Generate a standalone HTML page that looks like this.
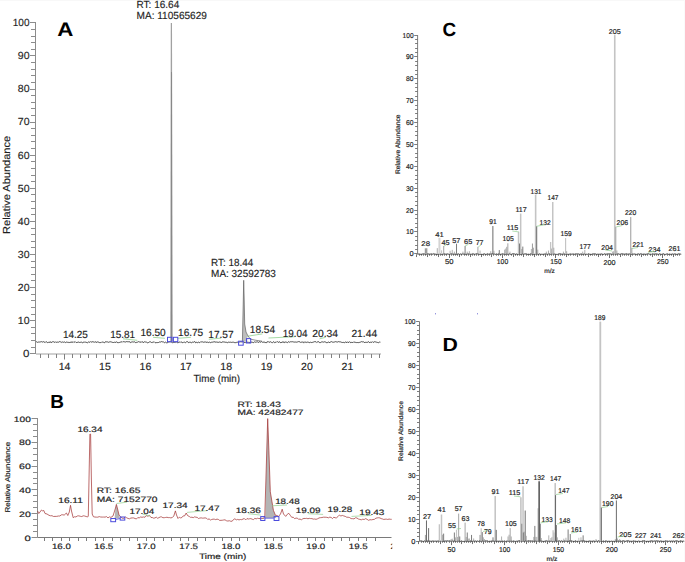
<!DOCTYPE html>
<html><head><meta charset="utf-8"><style>
html,body{margin:0;padding:0;background:#fff;width:685px;height:562px;overflow:hidden}
svg{display:block}
text{font-family:"Liberation Sans", sans-serif;text-rendering:geometricPrecision}
.sm{stroke:#1e1e1e;stroke-width:0.18px}
.md{stroke:#1e1e1e;stroke-width:0.15px}
</style></head><body>
<svg width="685" height="562" viewBox="0 0 685 562">
<rect width="685" height="562" fill="#fff"/>
<rect x="0" y="0" width="685" height="1" fill="#f8f8f8"/><rect x="684" y="0" width="1" height="562" fill="#fafafa"/>
<line x1="35.50" y1="22.00" x2="35.50" y2="354.00" stroke="#8c8c8c" stroke-width="1"/>
<line x1="36.00" y1="354.00" x2="381.00" y2="354.00" stroke="#d0d0d0" stroke-width="2.0"/>
<line x1="30.00" y1="353.50" x2="35.50" y2="353.50" stroke="#8c8c8c" stroke-width="1"/>
<line x1="31.00" y1="347.50" x2="35.50" y2="347.50" stroke="#8c8c8c" stroke-width="1"/>
<line x1="31.00" y1="340.50" x2="35.50" y2="340.50" stroke="#8c8c8c" stroke-width="1"/>
<line x1="31.00" y1="333.50" x2="35.50" y2="333.50" stroke="#8c8c8c" stroke-width="1"/>
<line x1="31.00" y1="327.50" x2="35.50" y2="327.50" stroke="#8c8c8c" stroke-width="1"/>
<line x1="30.00" y1="320.50" x2="35.50" y2="320.50" stroke="#8c8c8c" stroke-width="1"/>
<line x1="31.00" y1="314.50" x2="35.50" y2="314.50" stroke="#8c8c8c" stroke-width="1"/>
<line x1="31.00" y1="307.50" x2="35.50" y2="307.50" stroke="#8c8c8c" stroke-width="1"/>
<line x1="31.00" y1="300.50" x2="35.50" y2="300.50" stroke="#8c8c8c" stroke-width="1"/>
<line x1="31.00" y1="294.50" x2="35.50" y2="294.50" stroke="#8c8c8c" stroke-width="1"/>
<line x1="30.00" y1="287.50" x2="35.50" y2="287.50" stroke="#8c8c8c" stroke-width="1"/>
<line x1="31.00" y1="280.50" x2="35.50" y2="280.50" stroke="#8c8c8c" stroke-width="1"/>
<line x1="31.00" y1="274.50" x2="35.50" y2="274.50" stroke="#8c8c8c" stroke-width="1"/>
<line x1="31.00" y1="267.50" x2="35.50" y2="267.50" stroke="#8c8c8c" stroke-width="1"/>
<line x1="31.00" y1="261.50" x2="35.50" y2="261.50" stroke="#8c8c8c" stroke-width="1"/>
<line x1="30.00" y1="254.50" x2="35.50" y2="254.50" stroke="#8c8c8c" stroke-width="1"/>
<line x1="31.00" y1="247.50" x2="35.50" y2="247.50" stroke="#8c8c8c" stroke-width="1"/>
<line x1="31.00" y1="241.50" x2="35.50" y2="241.50" stroke="#8c8c8c" stroke-width="1"/>
<line x1="31.00" y1="234.50" x2="35.50" y2="234.50" stroke="#8c8c8c" stroke-width="1"/>
<line x1="31.00" y1="228.50" x2="35.50" y2="228.50" stroke="#8c8c8c" stroke-width="1"/>
<line x1="30.00" y1="221.50" x2="35.50" y2="221.50" stroke="#8c8c8c" stroke-width="1"/>
<line x1="31.00" y1="214.50" x2="35.50" y2="214.50" stroke="#8c8c8c" stroke-width="1"/>
<line x1="31.00" y1="208.50" x2="35.50" y2="208.50" stroke="#8c8c8c" stroke-width="1"/>
<line x1="31.00" y1="201.50" x2="35.50" y2="201.50" stroke="#8c8c8c" stroke-width="1"/>
<line x1="31.00" y1="194.50" x2="35.50" y2="194.50" stroke="#8c8c8c" stroke-width="1"/>
<line x1="30.00" y1="188.50" x2="35.50" y2="188.50" stroke="#8c8c8c" stroke-width="1"/>
<line x1="31.00" y1="181.50" x2="35.50" y2="181.50" stroke="#8c8c8c" stroke-width="1"/>
<line x1="31.00" y1="175.50" x2="35.50" y2="175.50" stroke="#8c8c8c" stroke-width="1"/>
<line x1="31.00" y1="168.50" x2="35.50" y2="168.50" stroke="#8c8c8c" stroke-width="1"/>
<line x1="31.00" y1="161.50" x2="35.50" y2="161.50" stroke="#8c8c8c" stroke-width="1"/>
<line x1="30.00" y1="155.50" x2="35.50" y2="155.50" stroke="#8c8c8c" stroke-width="1"/>
<line x1="31.00" y1="148.50" x2="35.50" y2="148.50" stroke="#8c8c8c" stroke-width="1"/>
<line x1="31.00" y1="141.50" x2="35.50" y2="141.50" stroke="#8c8c8c" stroke-width="1"/>
<line x1="31.00" y1="135.50" x2="35.50" y2="135.50" stroke="#8c8c8c" stroke-width="1"/>
<line x1="31.00" y1="128.50" x2="35.50" y2="128.50" stroke="#8c8c8c" stroke-width="1"/>
<line x1="30.00" y1="122.50" x2="35.50" y2="122.50" stroke="#8c8c8c" stroke-width="1"/>
<line x1="31.00" y1="115.50" x2="35.50" y2="115.50" stroke="#8c8c8c" stroke-width="1"/>
<line x1="31.00" y1="108.50" x2="35.50" y2="108.50" stroke="#8c8c8c" stroke-width="1"/>
<line x1="31.00" y1="102.50" x2="35.50" y2="102.50" stroke="#8c8c8c" stroke-width="1"/>
<line x1="31.00" y1="95.50" x2="35.50" y2="95.50" stroke="#8c8c8c" stroke-width="1"/>
<line x1="30.00" y1="89.50" x2="35.50" y2="89.50" stroke="#8c8c8c" stroke-width="1"/>
<line x1="31.00" y1="82.50" x2="35.50" y2="82.50" stroke="#8c8c8c" stroke-width="1"/>
<line x1="31.00" y1="75.50" x2="35.50" y2="75.50" stroke="#8c8c8c" stroke-width="1"/>
<line x1="31.00" y1="69.50" x2="35.50" y2="69.50" stroke="#8c8c8c" stroke-width="1"/>
<line x1="31.00" y1="62.50" x2="35.50" y2="62.50" stroke="#8c8c8c" stroke-width="1"/>
<line x1="30.00" y1="55.50" x2="35.50" y2="55.50" stroke="#8c8c8c" stroke-width="1"/>
<line x1="31.00" y1="49.50" x2="35.50" y2="49.50" stroke="#8c8c8c" stroke-width="1"/>
<line x1="31.00" y1="42.50" x2="35.50" y2="42.50" stroke="#8c8c8c" stroke-width="1"/>
<line x1="31.00" y1="36.50" x2="35.50" y2="36.50" stroke="#8c8c8c" stroke-width="1"/>
<line x1="31.00" y1="29.50" x2="35.50" y2="29.50" stroke="#8c8c8c" stroke-width="1"/>
<line x1="30.00" y1="22.50" x2="35.50" y2="22.50" stroke="#8c8c8c" stroke-width="1"/>
<text x="23.08" y="357.10" font-size="10.3" textLength="6.44" lengthAdjust="spacingAndGlyphs" fill="#1e1e1e" class="md">0</text>
<text x="17.78" y="324.00" font-size="10.3" textLength="11.74" lengthAdjust="spacingAndGlyphs" fill="#1e1e1e" class="md">10</text>
<text x="17.78" y="290.90" font-size="10.3" textLength="11.74" lengthAdjust="spacingAndGlyphs" fill="#1e1e1e" class="md">20</text>
<text x="17.78" y="257.80" font-size="10.3" textLength="11.74" lengthAdjust="spacingAndGlyphs" fill="#1e1e1e" class="md">30</text>
<text x="17.78" y="224.70" font-size="10.3" textLength="11.74" lengthAdjust="spacingAndGlyphs" fill="#1e1e1e" class="md">40</text>
<text x="17.78" y="191.60" font-size="10.3" textLength="11.74" lengthAdjust="spacingAndGlyphs" fill="#1e1e1e" class="md">50</text>
<text x="17.78" y="158.50" font-size="10.3" textLength="11.74" lengthAdjust="spacingAndGlyphs" fill="#1e1e1e" class="md">60</text>
<text x="17.78" y="125.40" font-size="10.3" textLength="11.74" lengthAdjust="spacingAndGlyphs" fill="#1e1e1e" class="md">70</text>
<text x="17.78" y="92.30" font-size="10.3" textLength="11.74" lengthAdjust="spacingAndGlyphs" fill="#1e1e1e" class="md">80</text>
<text x="17.78" y="59.20" font-size="10.3" textLength="11.74" lengthAdjust="spacingAndGlyphs" fill="#1e1e1e" class="md">90</text>
<text x="12.78" y="26.10" font-size="10.3" textLength="16.74" lengthAdjust="spacingAndGlyphs" fill="#1e1e1e" class="md">100</text>
<line x1="40.50" y1="354.00" x2="40.50" y2="358.00" stroke="#808080" stroke-width="1"/>
<line x1="48.50" y1="354.00" x2="48.50" y2="358.00" stroke="#808080" stroke-width="1"/>
<line x1="56.50" y1="354.00" x2="56.50" y2="358.00" stroke="#808080" stroke-width="1"/>
<line x1="64.50" y1="354.00" x2="64.50" y2="359.50" stroke="#808080" stroke-width="1"/>
<line x1="72.50" y1="354.00" x2="72.50" y2="358.00" stroke="#808080" stroke-width="1"/>
<line x1="80.50" y1="354.00" x2="80.50" y2="358.00" stroke="#808080" stroke-width="1"/>
<line x1="88.50" y1="354.00" x2="88.50" y2="358.00" stroke="#808080" stroke-width="1"/>
<line x1="96.50" y1="354.00" x2="96.50" y2="358.00" stroke="#808080" stroke-width="1"/>
<line x1="105.50" y1="354.00" x2="105.50" y2="359.50" stroke="#808080" stroke-width="1"/>
<line x1="113.50" y1="354.00" x2="113.50" y2="358.00" stroke="#808080" stroke-width="1"/>
<line x1="121.50" y1="354.00" x2="121.50" y2="358.00" stroke="#808080" stroke-width="1"/>
<line x1="129.50" y1="354.00" x2="129.50" y2="358.00" stroke="#808080" stroke-width="1"/>
<line x1="137.50" y1="354.00" x2="137.50" y2="358.00" stroke="#808080" stroke-width="1"/>
<line x1="145.50" y1="354.00" x2="145.50" y2="359.50" stroke="#808080" stroke-width="1"/>
<line x1="153.50" y1="354.00" x2="153.50" y2="358.00" stroke="#808080" stroke-width="1"/>
<line x1="161.50" y1="354.00" x2="161.50" y2="358.00" stroke="#808080" stroke-width="1"/>
<line x1="169.50" y1="354.00" x2="169.50" y2="358.00" stroke="#808080" stroke-width="1"/>
<line x1="177.50" y1="354.00" x2="177.50" y2="358.00" stroke="#808080" stroke-width="1"/>
<line x1="185.50" y1="354.00" x2="185.50" y2="359.50" stroke="#808080" stroke-width="1"/>
<line x1="193.50" y1="354.00" x2="193.50" y2="358.00" stroke="#808080" stroke-width="1"/>
<line x1="201.50" y1="354.00" x2="201.50" y2="358.00" stroke="#808080" stroke-width="1"/>
<line x1="210.50" y1="354.00" x2="210.50" y2="358.00" stroke="#808080" stroke-width="1"/>
<line x1="218.50" y1="354.00" x2="218.50" y2="358.00" stroke="#808080" stroke-width="1"/>
<line x1="226.50" y1="354.00" x2="226.50" y2="359.50" stroke="#808080" stroke-width="1"/>
<line x1="234.50" y1="354.00" x2="234.50" y2="358.00" stroke="#808080" stroke-width="1"/>
<line x1="242.50" y1="354.00" x2="242.50" y2="358.00" stroke="#808080" stroke-width="1"/>
<line x1="250.50" y1="354.00" x2="250.50" y2="358.00" stroke="#808080" stroke-width="1"/>
<line x1="258.50" y1="354.00" x2="258.50" y2="358.00" stroke="#808080" stroke-width="1"/>
<line x1="266.50" y1="354.00" x2="266.50" y2="359.50" stroke="#808080" stroke-width="1"/>
<line x1="274.50" y1="354.00" x2="274.50" y2="358.00" stroke="#808080" stroke-width="1"/>
<line x1="282.50" y1="354.00" x2="282.50" y2="358.00" stroke="#808080" stroke-width="1"/>
<line x1="290.50" y1="354.00" x2="290.50" y2="358.00" stroke="#808080" stroke-width="1"/>
<line x1="298.50" y1="354.00" x2="298.50" y2="358.00" stroke="#808080" stroke-width="1"/>
<line x1="307.50" y1="354.00" x2="307.50" y2="359.50" stroke="#808080" stroke-width="1"/>
<line x1="315.50" y1="354.00" x2="315.50" y2="358.00" stroke="#808080" stroke-width="1"/>
<line x1="323.50" y1="354.00" x2="323.50" y2="358.00" stroke="#808080" stroke-width="1"/>
<line x1="331.50" y1="354.00" x2="331.50" y2="358.00" stroke="#808080" stroke-width="1"/>
<line x1="339.50" y1="354.00" x2="339.50" y2="358.00" stroke="#808080" stroke-width="1"/>
<line x1="347.50" y1="354.00" x2="347.50" y2="359.50" stroke="#808080" stroke-width="1"/>
<line x1="355.50" y1="354.00" x2="355.50" y2="358.00" stroke="#808080" stroke-width="1"/>
<line x1="363.50" y1="354.00" x2="363.50" y2="358.00" stroke="#808080" stroke-width="1"/>
<line x1="371.50" y1="354.00" x2="371.50" y2="358.00" stroke="#808080" stroke-width="1"/>
<line x1="379.50" y1="354.00" x2="379.50" y2="358.00" stroke="#808080" stroke-width="1"/>
<text x="58.73" y="369.60" font-size="10.3" textLength="11.74" lengthAdjust="spacingAndGlyphs" fill="#1e1e1e" class="md">14</text>
<text x="99.13" y="369.60" font-size="10.3" textLength="11.74" lengthAdjust="spacingAndGlyphs" fill="#1e1e1e" class="md">15</text>
<text x="139.53" y="369.60" font-size="10.3" textLength="11.74" lengthAdjust="spacingAndGlyphs" fill="#1e1e1e" class="md">16</text>
<text x="179.93" y="369.60" font-size="10.3" textLength="11.74" lengthAdjust="spacingAndGlyphs" fill="#1e1e1e" class="md">17</text>
<text x="220.33" y="369.60" font-size="10.3" textLength="11.74" lengthAdjust="spacingAndGlyphs" fill="#1e1e1e" class="md">18</text>
<text x="260.73" y="369.60" font-size="10.3" textLength="11.74" lengthAdjust="spacingAndGlyphs" fill="#1e1e1e" class="md">19</text>
<text x="301.13" y="369.60" font-size="10.3" textLength="11.74" lengthAdjust="spacingAndGlyphs" fill="#1e1e1e" class="md">20</text>
<text x="341.53" y="369.60" font-size="10.3" textLength="11.74" lengthAdjust="spacingAndGlyphs" fill="#1e1e1e" class="md">21</text>
<text x="193.48" y="382.40" font-size="10.3" textLength="46.54" lengthAdjust="spacingAndGlyphs" fill="#1e1e1e" class="md">Time (min)</text>
<text transform="translate(9.60,233.91) rotate(-90)" x="0" y="0" font-size="10.2" textLength="97.93" lengthAdjust="spacingAndGlyphs" fill="#1e1e1e" class="md">Relative Abundance</text>
<text x="57.34" y="35.60" font-size="19.5" textLength="16.13" lengthAdjust="spacingAndGlyphs" fill="#000" font-weight="bold" >A</text>
<polyline points="36.00,341.99 36.70,341.78 37.40,342.38 38.10,341.69 38.80,342.24 39.50,342.04 40.20,341.67 40.90,342.21 41.60,341.64 42.30,342.12 43.00,341.68 43.70,341.71 44.40,342.11 45.10,342.59 45.80,341.75 46.50,341.87 47.20,342.35 47.90,342.74 48.60,342.29 49.30,342.08 50.00,342.77 50.70,341.66 51.40,342.63 52.10,341.95 52.80,341.77 53.50,341.74 54.20,341.97 54.90,342.58 55.60,341.82 56.30,342.30 57.00,342.37 57.70,342.05 58.40,342.26 59.10,341.68 59.80,341.67 60.50,341.85 61.20,342.42 61.90,342.11 62.60,341.98 63.30,342.30 64.00,342.14 64.70,341.96 65.40,342.55 66.10,342.44 66.80,341.89 67.50,342.29 68.20,342.23 68.90,342.65 69.60,342.48 70.30,341.95 71.00,342.78 71.70,341.74 72.40,342.10 73.10,342.51 73.80,341.78 74.50,342.19 75.20,341.65 75.90,342.40 76.60,342.52 77.30,342.29 78.00,342.65 78.70,341.98 79.40,342.43 80.10,342.31 80.80,342.30 81.50,342.15 82.20,342.61 82.90,342.73 83.60,342.17 84.30,342.40 85.00,341.67 85.70,342.44 86.40,342.38 87.10,342.79 87.80,342.59 88.50,341.94 89.20,342.06 89.90,342.40 90.60,341.63 91.30,342.15 92.00,341.80 92.70,341.74 93.40,341.67 94.10,342.52 94.80,341.76 95.50,341.90 96.20,342.07 96.90,342.65 97.60,341.70 98.30,342.14 99.00,342.26 99.70,342.66 100.40,342.58 101.10,342.64 101.80,341.93 102.50,342.10 103.20,342.03 103.90,342.66 104.60,342.75 105.30,341.78 106.00,341.81 106.70,341.88 107.40,341.88 108.10,342.18 108.80,342.31 109.50,341.92 110.20,341.60 110.90,342.10 111.60,342.04 112.30,342.28 113.00,342.74 113.70,342.43 114.40,342.22 115.10,342.34 115.80,342.41 116.50,341.66 117.20,342.68 117.90,342.54 118.60,342.65 119.30,342.56 120.00,342.07 120.70,342.08 121.40,341.72 122.10,342.36 122.80,341.67 123.50,341.68 124.20,341.85 124.90,341.79 125.60,342.01 126.30,341.66 127.00,341.60 127.70,341.78 128.40,341.72 129.10,342.04 129.80,341.63 130.50,342.65 131.20,342.34 131.90,341.78 132.60,341.90 133.30,342.02 134.00,342.04 134.70,341.75 135.40,342.62 136.10,342.79 136.80,342.16 137.50,342.18 138.20,341.70 138.90,341.72 139.60,342.01 140.30,341.92 141.00,342.59 141.70,341.79 142.40,341.63 143.10,342.74 143.80,342.23 144.50,341.78 145.20,342.25 145.90,341.63 146.60,342.23 147.30,342.77 148.00,342.64 148.70,342.44 149.40,341.91 150.10,342.04 150.80,341.80 151.50,342.53 152.20,342.24 152.90,342.53 153.60,342.00 154.30,341.87 155.00,342.57 155.70,342.78 156.40,342.62 157.10,342.57 157.80,342.58 158.50,342.49 159.20,341.87 159.90,342.22 160.60,342.03 161.30,341.63 162.00,341.63 162.70,341.94 163.40,341.91 164.10,342.43 164.80,342.75 165.50,342.14 166.20,342.72 166.90,342.79 167.60,342.75 168.30,342.04 169.00,341.86 169.70,341.87 170.40,341.84 171.10,341.85 171.80,342.35 172.50,342.68 173.20,342.61 173.90,342.18 174.60,342.38 175.30,342.56 176.00,341.70 176.70,342.39 177.40,342.69 178.10,342.54 178.80,342.50 179.50,342.17 180.20,341.81 180.90,342.55 181.60,342.00 182.30,342.56 183.00,342.77 183.70,342.08 184.40,342.08 185.10,342.74 185.80,342.47 186.50,341.80 187.20,341.75 187.90,341.78 188.60,342.69 189.30,342.57 190.00,341.78 190.70,342.59 191.40,342.78 192.10,342.39 192.80,342.02 193.50,342.26 194.20,341.76 194.90,341.62 195.60,342.77 196.30,342.38 197.00,342.23 197.70,342.72 198.40,342.12 199.10,342.65 199.80,342.59 200.50,341.85 201.20,341.90 201.90,341.95 202.60,341.89 203.30,342.30 204.00,341.91 204.70,342.10 205.40,341.76 206.10,342.69 206.80,342.02 207.50,342.15 208.20,342.30 208.90,342.69 209.60,342.10 210.30,342.70 211.00,342.20 211.70,342.24 212.40,342.23 213.10,341.62 213.80,342.13 214.50,341.82 215.20,341.60 215.90,342.56 216.60,341.81 217.30,342.17 218.00,342.47 218.70,342.27 219.40,341.99 220.10,342.22 220.80,342.27 221.50,342.54 222.20,341.73 222.90,342.27 223.60,341.90 224.30,341.93 225.00,342.53 225.70,342.21 226.40,342.27 227.10,342.51 227.80,342.69 228.50,342.13 229.20,342.34 229.90,342.21 230.60,342.21 231.30,342.43 232.00,342.14 232.70,342.24 233.40,342.17 234.10,342.73 234.80,342.44 235.50,342.65 236.20,342.73 236.90,341.91 237.60,342.27 238.30,342.73 239.00,342.61 239.70,341.76 240.40,341.75 241.10,342.13 241.80,341.69 242.50,341.89 243.20,341.69 243.90,342.40 244.60,342.54 245.30,342.68 246.00,341.79 246.70,342.46 247.40,342.39 248.10,341.77 248.80,342.66 249.50,342.76 250.20,341.86 250.90,342.74 251.60,342.08 252.30,342.18 253.00,342.79 253.70,342.60 254.40,341.79 255.10,342.12 255.80,342.22 256.50,342.01 257.20,341.83 257.90,341.98 258.60,342.47 259.30,341.62 260.00,342.26 260.70,342.13 261.40,341.62 262.10,342.00 262.80,342.35 263.50,342.21 264.20,341.68 264.90,342.78 265.60,342.55 266.30,342.77 267.00,341.73 267.70,341.92 268.40,341.65 269.10,342.53 269.80,341.92 270.50,341.76 271.20,342.11 271.90,342.69 272.60,342.58 273.30,341.91 274.00,341.78 274.70,342.70 275.40,342.28 276.10,342.44 276.80,341.71 277.50,341.67 278.20,342.43 278.90,342.11 279.60,341.69 280.30,342.73 281.00,342.36 281.70,342.56 282.40,341.70 283.10,342.63 283.80,341.68 284.50,342.64 285.20,342.14 285.90,342.01 286.60,342.26 287.30,342.71 288.00,341.92 288.70,341.76 289.40,342.23 290.10,341.89 290.80,341.73 291.50,341.79 292.20,341.66 292.90,341.84 293.60,341.97 294.30,341.97 295.00,342.51 295.70,341.95 296.40,342.20 297.10,341.81 297.80,342.02 298.50,341.62 299.20,341.90 299.90,341.62 300.60,342.48 301.30,342.26 302.00,341.83 302.70,342.17 303.40,342.72 304.10,341.73 304.80,342.58 305.50,342.12 306.20,342.19 306.90,342.60 307.60,342.07 308.30,342.21 309.00,342.43 309.70,342.78 310.40,342.01 311.10,342.60 311.80,342.45 312.50,342.36 313.20,342.09 313.90,342.02 314.60,341.67 315.30,341.76 316.00,341.68 316.70,342.49 317.40,341.91 318.10,341.80 318.80,341.70 319.50,342.61 320.20,342.64 320.90,342.40 321.60,341.94 322.30,341.89 323.00,341.95 323.70,342.15 324.40,341.79 325.10,342.13 325.80,341.92 326.50,342.75 327.20,342.77 327.90,342.26 328.60,341.89 329.30,342.76 330.00,341.97 330.70,342.03 331.40,341.60 332.10,342.06 332.80,342.17 333.50,342.20 334.20,341.84 334.90,342.21 335.60,341.61 336.30,341.92 337.00,341.71 337.70,342.08 338.40,341.65 339.10,341.63 339.80,341.97 340.50,341.88 341.20,342.30 341.90,342.24 342.60,342.50 343.30,342.39 344.00,342.46 344.70,342.65 345.40,342.07 346.10,341.99 346.80,342.78 347.50,341.78 348.20,342.47 348.90,342.37 349.60,341.65 350.30,342.60 351.00,342.67 351.70,342.35 352.40,342.48 353.10,342.57 353.80,341.77 354.50,342.23 355.20,342.21 355.90,342.60 356.60,342.57 357.30,342.59 358.00,342.30 358.70,342.67 359.40,342.42 360.10,342.43 360.80,341.88 361.50,341.64 362.20,341.76 362.90,342.03 363.60,341.73 364.30,342.60 365.00,342.27 365.70,342.35 366.40,342.35 367.10,342.42 367.80,342.19 368.50,341.60 369.20,342.56 369.90,342.50 370.60,342.20 371.30,342.24 372.00,342.39 372.70,341.68 373.40,342.48 374.10,341.90 374.80,341.69 375.50,341.92 376.20,342.48 376.90,341.85 377.60,342.49 378.30,342.77 379.00,342.19 379.70,342.06 380.40,342.17" fill="none" stroke="#222" stroke-width="0.8" stroke-linejoin="round" />
<line x1="123.00" y1="338.80" x2="137.30" y2="340.30" stroke="#8fd08f" stroke-width="0.8"/>
<line x1="153.10" y1="337.30" x2="164.90" y2="338.30" stroke="#8fd08f" stroke-width="0.8"/>
<line x1="177.70" y1="338.30" x2="190.90" y2="337.30" stroke="#8fd08f" stroke-width="0.8"/>
<line x1="208.80" y1="339.30" x2="221.10" y2="338.10" stroke="#8fd08f" stroke-width="0.8"/>
<line x1="247.00" y1="336.30" x2="262.40" y2="333.90" stroke="#8fd08f" stroke-width="0.8"/>
<line x1="268.50" y1="338.00" x2="295.10" y2="336.70" stroke="#8fd08f" stroke-width="0.8"/>
<line x1="319.60" y1="338.80" x2="325.70" y2="337.30" stroke="#8fd08f" stroke-width="0.8"/>
<polygon points="170.10,341.80 170.80,23.00 172.00,23.00 173.00,341.80" fill="#bcbcbc" stroke="none" stroke-width="0.6"/>
<line x1="171.40" y1="23.00" x2="171.40" y2="72.00" stroke="#9a9a9a" stroke-width="0.9"/>
<line x1="171.40" y1="72.00" x2="171.40" y2="341.00" stroke="#7a7a7a" stroke-width="0.9"/>
<polygon points="242.40,342.00 243.30,300.00 243.70,280.30 244.20,300.00 244.70,324.00 246.00,332.00 247.30,335.00 247.30,341.50" fill="#bdbdbd" stroke="none" stroke-width="0.6"/>
<polyline points="242.40,342.00 243.30,300.00 243.70,280.30 244.20,300.00 244.70,324.00 246.00,332.00 248.00,336.00 250.50,339.20 256.00,340.30 262.00,341.20" fill="none" stroke="#606060" stroke-width="0.7" stroke-linejoin="round" />
<rect x="167.50" y="337.30" width="4.40" height="4.40" fill="none" stroke="#4b4bdc" stroke-width="1"/>
<rect x="173.40" y="337.30" width="4.40" height="4.40" fill="none" stroke="#4b4bdc" stroke-width="1"/>
<rect x="238.60" y="341.20" width="4.60" height="4.00" fill="none" stroke="#4b4bdc" stroke-width="1"/>
<rect x="246.50" y="338.60" width="4.20" height="4.40" fill="none" stroke="#4b4bdc" stroke-width="1"/>
<text x="136.58" y="7.90" font-size="10.3" textLength="42.64" lengthAdjust="spacingAndGlyphs" fill="#1e1e1e" class="md">RT: 16.64</text>
<text x="136.58" y="18.90" font-size="10.3" textLength="70.34" lengthAdjust="spacingAndGlyphs" fill="#1e1e1e" class="md">MA: 110565629</text>
<text x="211.08" y="265.60" font-size="10.3" textLength="42.04" lengthAdjust="spacingAndGlyphs" fill="#1e1e1e" class="md">RT: 18.44</text>
<text x="211.08" y="276.80" font-size="10.3" textLength="64.84" lengthAdjust="spacingAndGlyphs" fill="#1e1e1e" class="md">MA: 32592783</text>
<text x="62.98" y="337.80" font-size="10.3" textLength="24.94" lengthAdjust="spacingAndGlyphs" fill="#1e1e1e" class="md">14.25</text>
<text x="110.18" y="338.20" font-size="10.3" textLength="24.94" lengthAdjust="spacingAndGlyphs" fill="#1e1e1e" class="md">15.81</text>
<text x="140.48" y="336.40" font-size="10.3" textLength="25.24" lengthAdjust="spacingAndGlyphs" fill="#1e1e1e" class="md">16.50</text>
<text x="178.08" y="336.40" font-size="10.3" textLength="25.14" lengthAdjust="spacingAndGlyphs" fill="#1e1e1e" class="md">16.75</text>
<text x="208.28" y="338.20" font-size="10.3" textLength="25.34" lengthAdjust="spacingAndGlyphs" fill="#1e1e1e" class="md">17.57</text>
<text x="249.78" y="333.00" font-size="10.3" textLength="25.34" lengthAdjust="spacingAndGlyphs" fill="#1e1e1e" class="md">18.54</text>
<text x="282.68" y="337.40" font-size="10.3" textLength="24.84" lengthAdjust="spacingAndGlyphs" fill="#1e1e1e" class="md">19.04</text>
<text x="312.18" y="337.40" font-size="10.3" textLength="25.94" lengthAdjust="spacingAndGlyphs" fill="#1e1e1e" class="md">20.34</text>
<text x="351.38" y="337.40" font-size="10.3" textLength="25.74" lengthAdjust="spacingAndGlyphs" fill="#1e1e1e" class="md">21.44</text>
<line x1="37.50" y1="418.00" x2="37.50" y2="537.50" stroke="#8c8c8c" stroke-width="1"/>
<line x1="37.50" y1="537.50" x2="391.50" y2="537.50" stroke="#7a7a7a" stroke-width="1"/>
<line x1="31.50" y1="537.50" x2="37.50" y2="537.50" stroke="#8c8c8c" stroke-width="1"/>
<line x1="33.00" y1="531.50" x2="37.50" y2="531.50" stroke="#8c8c8c" stroke-width="1"/>
<line x1="33.00" y1="525.50" x2="37.50" y2="525.50" stroke="#8c8c8c" stroke-width="1"/>
<line x1="33.00" y1="519.50" x2="37.50" y2="519.50" stroke="#8c8c8c" stroke-width="1"/>
<line x1="31.50" y1="513.50" x2="37.50" y2="513.50" stroke="#8c8c8c" stroke-width="1"/>
<line x1="33.00" y1="507.50" x2="37.50" y2="507.50" stroke="#8c8c8c" stroke-width="1"/>
<line x1="33.00" y1="501.50" x2="37.50" y2="501.50" stroke="#8c8c8c" stroke-width="1"/>
<line x1="33.00" y1="495.50" x2="37.50" y2="495.50" stroke="#8c8c8c" stroke-width="1"/>
<line x1="31.50" y1="489.50" x2="37.50" y2="489.50" stroke="#8c8c8c" stroke-width="1"/>
<line x1="33.00" y1="483.50" x2="37.50" y2="483.50" stroke="#8c8c8c" stroke-width="1"/>
<line x1="33.00" y1="478.50" x2="37.50" y2="478.50" stroke="#8c8c8c" stroke-width="1"/>
<line x1="33.00" y1="472.50" x2="37.50" y2="472.50" stroke="#8c8c8c" stroke-width="1"/>
<line x1="31.50" y1="466.50" x2="37.50" y2="466.50" stroke="#8c8c8c" stroke-width="1"/>
<line x1="33.00" y1="460.50" x2="37.50" y2="460.50" stroke="#8c8c8c" stroke-width="1"/>
<line x1="33.00" y1="454.50" x2="37.50" y2="454.50" stroke="#8c8c8c" stroke-width="1"/>
<line x1="33.00" y1="448.50" x2="37.50" y2="448.50" stroke="#8c8c8c" stroke-width="1"/>
<line x1="31.50" y1="442.50" x2="37.50" y2="442.50" stroke="#8c8c8c" stroke-width="1"/>
<line x1="33.00" y1="436.50" x2="37.50" y2="436.50" stroke="#8c8c8c" stroke-width="1"/>
<line x1="33.00" y1="430.50" x2="37.50" y2="430.50" stroke="#8c8c8c" stroke-width="1"/>
<line x1="33.00" y1="424.50" x2="37.50" y2="424.50" stroke="#8c8c8c" stroke-width="1"/>
<line x1="31.50" y1="418.50" x2="37.50" y2="418.50" stroke="#8c8c8c" stroke-width="1"/>
<text x="24.55" y="540.50" font-size="7.8" textLength="6.29" lengthAdjust="spacingAndGlyphs" fill="#1e1e1e" class="sm">0</text>
<text x="19.05" y="516.72" font-size="7.8" textLength="11.79" lengthAdjust="spacingAndGlyphs" fill="#1e1e1e" class="sm">20</text>
<text x="19.05" y="492.94" font-size="7.8" textLength="11.79" lengthAdjust="spacingAndGlyphs" fill="#1e1e1e" class="sm">40</text>
<text x="19.05" y="469.16" font-size="7.8" textLength="11.79" lengthAdjust="spacingAndGlyphs" fill="#1e1e1e" class="sm">60</text>
<text x="19.05" y="445.38" font-size="7.8" textLength="11.79" lengthAdjust="spacingAndGlyphs" fill="#1e1e1e" class="sm">80</text>
<text x="13.85" y="421.60" font-size="7.8" textLength="16.99" lengthAdjust="spacingAndGlyphs" fill="#1e1e1e" class="sm">100</text>
<line x1="44.50" y1="537.50" x2="44.50" y2="541.00" stroke="#7a7a7a" stroke-width="1"/>
<line x1="52.50" y1="537.50" x2="52.50" y2="541.00" stroke="#7a7a7a" stroke-width="1"/>
<line x1="61.50" y1="537.50" x2="61.50" y2="541.00" stroke="#7a7a7a" stroke-width="1"/>
<line x1="69.50" y1="537.50" x2="69.50" y2="541.00" stroke="#7a7a7a" stroke-width="1"/>
<line x1="78.50" y1="537.50" x2="78.50" y2="541.00" stroke="#7a7a7a" stroke-width="1"/>
<line x1="86.50" y1="537.50" x2="86.50" y2="541.00" stroke="#7a7a7a" stroke-width="1"/>
<line x1="95.50" y1="537.50" x2="95.50" y2="541.00" stroke="#7a7a7a" stroke-width="1"/>
<line x1="103.50" y1="537.50" x2="103.50" y2="541.00" stroke="#7a7a7a" stroke-width="1"/>
<line x1="112.50" y1="537.50" x2="112.50" y2="541.00" stroke="#7a7a7a" stroke-width="1"/>
<line x1="120.50" y1="537.50" x2="120.50" y2="541.00" stroke="#7a7a7a" stroke-width="1"/>
<line x1="129.50" y1="537.50" x2="129.50" y2="541.00" stroke="#7a7a7a" stroke-width="1"/>
<line x1="137.50" y1="537.50" x2="137.50" y2="541.00" stroke="#7a7a7a" stroke-width="1"/>
<line x1="146.50" y1="537.50" x2="146.50" y2="541.00" stroke="#7a7a7a" stroke-width="1"/>
<line x1="154.50" y1="537.50" x2="154.50" y2="541.00" stroke="#7a7a7a" stroke-width="1"/>
<line x1="163.50" y1="537.50" x2="163.50" y2="541.00" stroke="#7a7a7a" stroke-width="1"/>
<line x1="171.50" y1="537.50" x2="171.50" y2="541.00" stroke="#7a7a7a" stroke-width="1"/>
<line x1="180.50" y1="537.50" x2="180.50" y2="541.00" stroke="#7a7a7a" stroke-width="1"/>
<line x1="188.50" y1="537.50" x2="188.50" y2="541.00" stroke="#7a7a7a" stroke-width="1"/>
<line x1="197.50" y1="537.50" x2="197.50" y2="541.00" stroke="#7a7a7a" stroke-width="1"/>
<line x1="205.50" y1="537.50" x2="205.50" y2="541.00" stroke="#7a7a7a" stroke-width="1"/>
<line x1="214.50" y1="537.50" x2="214.50" y2="541.00" stroke="#7a7a7a" stroke-width="1"/>
<line x1="222.50" y1="537.50" x2="222.50" y2="541.00" stroke="#7a7a7a" stroke-width="1"/>
<line x1="231.50" y1="537.50" x2="231.50" y2="541.00" stroke="#7a7a7a" stroke-width="1"/>
<line x1="239.50" y1="537.50" x2="239.50" y2="541.00" stroke="#7a7a7a" stroke-width="1"/>
<line x1="247.50" y1="537.50" x2="247.50" y2="541.00" stroke="#7a7a7a" stroke-width="1"/>
<line x1="256.50" y1="537.50" x2="256.50" y2="541.00" stroke="#7a7a7a" stroke-width="1"/>
<line x1="264.50" y1="537.50" x2="264.50" y2="541.00" stroke="#7a7a7a" stroke-width="1"/>
<line x1="273.50" y1="537.50" x2="273.50" y2="541.00" stroke="#7a7a7a" stroke-width="1"/>
<line x1="281.50" y1="537.50" x2="281.50" y2="541.00" stroke="#7a7a7a" stroke-width="1"/>
<line x1="290.50" y1="537.50" x2="290.50" y2="541.00" stroke="#7a7a7a" stroke-width="1"/>
<line x1="298.50" y1="537.50" x2="298.50" y2="541.00" stroke="#7a7a7a" stroke-width="1"/>
<line x1="307.50" y1="537.50" x2="307.50" y2="541.00" stroke="#7a7a7a" stroke-width="1"/>
<line x1="315.50" y1="537.50" x2="315.50" y2="541.00" stroke="#7a7a7a" stroke-width="1"/>
<line x1="324.50" y1="537.50" x2="324.50" y2="541.00" stroke="#7a7a7a" stroke-width="1"/>
<line x1="332.50" y1="537.50" x2="332.50" y2="541.00" stroke="#7a7a7a" stroke-width="1"/>
<line x1="341.50" y1="537.50" x2="341.50" y2="541.00" stroke="#7a7a7a" stroke-width="1"/>
<line x1="349.50" y1="537.50" x2="349.50" y2="541.00" stroke="#7a7a7a" stroke-width="1"/>
<line x1="358.50" y1="537.50" x2="358.50" y2="541.00" stroke="#7a7a7a" stroke-width="1"/>
<line x1="366.50" y1="537.50" x2="366.50" y2="541.00" stroke="#7a7a7a" stroke-width="1"/>
<line x1="375.50" y1="537.50" x2="375.50" y2="541.00" stroke="#7a7a7a" stroke-width="1"/>
<text x="51.95" y="548.90" font-size="7.8" textLength="18.89" lengthAdjust="spacingAndGlyphs" fill="#1e1e1e" class="sm">16.0</text>
<text x="94.35" y="548.90" font-size="7.8" textLength="18.89" lengthAdjust="spacingAndGlyphs" fill="#1e1e1e" class="sm">16.5</text>
<text x="136.75" y="548.90" font-size="7.8" textLength="18.89" lengthAdjust="spacingAndGlyphs" fill="#1e1e1e" class="sm">17.0</text>
<text x="179.15" y="548.90" font-size="7.8" textLength="18.89" lengthAdjust="spacingAndGlyphs" fill="#1e1e1e" class="sm">17.5</text>
<text x="221.55" y="548.90" font-size="7.8" textLength="18.89" lengthAdjust="spacingAndGlyphs" fill="#1e1e1e" class="sm">18.0</text>
<text x="263.95" y="548.90" font-size="7.8" textLength="18.89" lengthAdjust="spacingAndGlyphs" fill="#1e1e1e" class="sm">18.5</text>
<text x="306.35" y="548.90" font-size="7.8" textLength="18.89" lengthAdjust="spacingAndGlyphs" fill="#1e1e1e" class="sm">19.0</text>
<text x="348.75" y="548.90" font-size="7.8" textLength="18.89" lengthAdjust="spacingAndGlyphs" fill="#1e1e1e" class="sm">19.5</text>
<clipPath id="cb"><rect x="385" y="538" width="7.2" height="14"/></clipPath><g clip-path="url(#cb)">
<text x="390.55" y="548.90" font-size="7.8" textLength="18.89" lengthAdjust="spacingAndGlyphs" fill="#1e1e1e" class="sm">20.0</text>
</g>
<text x="199.15" y="558.60" font-size="7.8" textLength="47.09" lengthAdjust="spacingAndGlyphs" fill="#1e1e1e" class="sm">Time (min)</text>
<text transform="translate(10.00,512.59) rotate(-90)" x="0" y="0" font-size="7.0" textLength="70.68" lengthAdjust="spacingAndGlyphs" fill="#1e1e1e" class="sm">Relative Abundance</text>
<text x="50.27" y="408.00" font-size="19.0" textLength="13.76" lengthAdjust="spacingAndGlyphs" fill="#000" font-weight="bold" >B</text>
<polygon points="114.60,518.50 115.50,508.00 116.40,504.40 117.60,509.00 119.00,515.00 119.60,518.50" fill="#b4b4b4" stroke="none" stroke-width="0.6"/>
<polygon points="265.30,518.00 265.30,516.00 266.20,470.00 267.70,418.60 268.90,450.90 270.30,491.80 273.40,510.30 275.50,515.40 276.00,518.00" fill="#b4b4b4" stroke="none" stroke-width="0.6"/>
<polyline points="37.60,511.00 38.80,513.50 40.00,512.00 41.50,510.00 42.50,510.80 43.80,510.50 45.00,513.50 47.00,514.00 49.00,515.30 50.50,515.79 52.00,515.70 53.50,516.48 55.00,516.40 56.70,516.39 58.40,516.00 59.85,516.00 61.30,514.87 62.75,514.76 64.20,515.10 66.40,513.00 67.80,515.50 69.30,512.00 70.50,505.30 71.50,511.00 73.20,517.70 74.57,516.74 75.93,516.96 77.30,516.00 78.80,515.84 80.30,516.30 81.76,516.55 83.22,515.80 84.68,516.02 86.14,516.49 87.60,517.00 88.30,516.00 89.20,470.00 89.90,434.10 90.60,434.10 91.40,480.00 92.20,514.00 93.40,516.70 94.86,517.04 96.32,517.13 97.78,517.16 99.24,516.61 100.70,517.00 102.16,517.08 103.61,517.06 105.07,517.12 106.53,516.62 107.99,517.92 109.44,516.86 110.90,517.40 113.00,516.00 115.50,508.00 116.40,504.40 117.60,509.00 119.00,515.00 121.10,517.40 122.49,518.28 123.88,518.32 125.27,516.96 126.66,517.77 128.05,518.46 129.44,518.81 130.83,518.09 132.22,517.91 133.61,517.93 135.00,518.50 136.40,518.97 137.80,517.56 139.20,517.91 140.60,516.97 142.00,517.30 143.48,516.96 144.96,517.26 146.44,515.57 147.92,516.29 149.40,515.40 151.00,517.50 152.33,517.54 153.65,518.17 154.98,517.91 156.31,517.18 157.63,518.27 158.96,517.64 160.29,516.93 161.61,516.92 162.94,517.73 164.27,517.69 165.59,517.48 166.92,517.25 168.25,517.60 169.57,517.58 170.90,517.90 172.35,517.49 173.80,516.00 175.40,510.90 176.50,515.00 178.00,518.50 179.30,517.20 180.60,517.90 181.90,517.54 183.20,515.89 184.50,516.00 186.20,513.00 187.50,515.50 189.30,516.50 190.62,517.36 191.94,517.19 193.25,517.67 194.57,516.87 195.89,517.18 197.21,517.39 198.52,518.53 199.84,518.05 201.16,517.87 202.48,518.15 203.79,518.08 205.11,517.89 206.43,518.16 207.75,519.51 209.06,518.80 210.38,520.02 211.70,519.50 213.03,519.13 214.36,519.19 215.69,519.61 217.02,519.12 218.35,519.45 219.68,520.41 221.01,520.32 222.34,520.24 223.67,519.98 225.00,519.80 226.44,520.74 227.88,521.07 229.32,520.72 230.76,521.27 232.20,521.20 233.50,519.50 234.88,518.78 236.26,519.87 237.64,519.42 239.02,519.90 240.40,519.50 241.71,519.66 243.03,519.02 244.34,518.56 245.66,519.90 246.97,518.55 248.29,519.03 249.60,518.75 250.91,518.61 252.23,519.24 253.54,519.55 254.86,518.33 256.17,518.89 257.49,518.25 258.80,518.50 260.37,518.59 261.93,518.33 263.50,518.50 264.80,516.00 266.20,470.00 267.70,418.60 268.90,450.90 270.30,491.80 271.85,501.05 273.40,510.30 275.50,515.40 277.00,515.42 278.50,516.50 280.50,514.00 282.20,509.20 283.50,514.00 285.70,516.40 287.25,514.31 288.80,513.30 290.30,515.35 291.80,517.40 293.17,517.20 294.53,518.58 295.90,518.20 297.27,518.02 298.63,519.38 300.00,519.00 301.33,519.79 302.65,518.92 303.98,518.42 305.31,518.51 306.64,518.35 307.96,518.75 309.29,518.35 310.62,518.58 311.95,518.61 313.27,519.11 314.60,519.00 316.07,519.32 317.53,518.80 319.00,517.96 320.47,517.66 321.93,517.54 323.40,517.20 325.10,517.20 326.80,517.34 328.50,517.80 329.83,517.10 331.17,517.44 332.50,518.55 333.83,517.20 335.17,517.81 336.50,517.80 337.95,516.61 339.40,515.00 340.86,516.02 342.32,515.43 343.78,515.95 345.24,516.36 346.70,517.20 348.16,517.26 349.62,517.56 351.09,518.60 352.55,518.66 354.01,518.92 355.47,517.78 356.94,518.03 358.40,519.00 359.85,519.42 361.30,519.81 362.75,519.22 364.20,519.49 365.65,518.64 367.10,519.35 368.55,520.30 370.00,519.70 371.48,519.85 372.95,519.52 374.42,519.33 375.90,518.20 377.22,517.89 378.53,517.76 379.85,517.92 381.17,518.60 382.48,518.95 383.80,519.46 385.12,519.20 386.43,519.17 387.75,519.45 389.07,519.05 390.38,519.29 391.70,519.30" fill="none" stroke="#a53a3a" stroke-width="0.75" stroke-linejoin="round" />
<rect x="110.80" y="518.50" width="4.80" height="3.20" fill="none" stroke="#4b4bdc" stroke-width="1"/>
<rect x="120.20" y="517.00" width="4.60" height="3.10" fill="none" stroke="#4b4bdc" stroke-width="1"/>
<line x1="115.60" y1="519.50" x2="120.20" y2="518.50" stroke="#4b4bdc" stroke-width="0.8"/>
<rect x="260.70" y="516.60" width="4.20" height="3.90" fill="none" stroke="#4b4bdc" stroke-width="1"/>
<rect x="274.10" y="516.60" width="4.80" height="3.90" fill="none" stroke="#4b4bdc" stroke-width="1"/>
<line x1="264.70" y1="518.20" x2="273.80" y2="518.20" stroke="#4b4bdc" stroke-width="0.8"/>
<line x1="116.50" y1="503.50" x2="126.90" y2="502.20" stroke="#8fd08f" stroke-width="0.7"/>
<line x1="142.40" y1="514.10" x2="150.30" y2="515.90" stroke="#8fd08f" stroke-width="0.7"/>
<line x1="187.00" y1="512.40" x2="207.20" y2="510.60" stroke="#8fd08f" stroke-width="0.7"/>
<line x1="248.20" y1="513.70" x2="260.70" y2="515.10" stroke="#8fd08f" stroke-width="0.7"/>
<line x1="271.80" y1="505.80" x2="287.00" y2="505.00" stroke="#8fd08f" stroke-width="0.7"/>
<line x1="307.80" y1="513.70" x2="323.10" y2="514.40" stroke="#8fd08f" stroke-width="0.7"/>
<line x1="351.50" y1="516.40" x2="371.50" y2="515.40" stroke="#8fd08f" stroke-width="0.7"/>
<text x="96.75" y="492.80" font-size="7.8" textLength="43.59" lengthAdjust="spacingAndGlyphs" fill="#1e1e1e" class="sm">RT: 16.65</text>
<text x="96.75" y="501.90" font-size="7.8" textLength="60.79" lengthAdjust="spacingAndGlyphs" fill="#1e1e1e" class="sm">MA: 7152770</text>
<text x="237.45" y="407.00" font-size="7.8" textLength="43.49" lengthAdjust="spacingAndGlyphs" fill="#1e1e1e" class="sm">RT: 18.43</text>
<text x="237.45" y="415.40" font-size="7.8" textLength="65.99" lengthAdjust="spacingAndGlyphs" fill="#1e1e1e" class="sm">MA: 42482477</text>
<text x="58.25" y="503.00" font-size="7.8" textLength="24.59" lengthAdjust="spacingAndGlyphs" fill="#1e1e1e" class="sm">16.11</text>
<text x="77.45" y="431.80" font-size="7.8" textLength="25.09" lengthAdjust="spacingAndGlyphs" fill="#1e1e1e" class="sm">16.34</text>
<text x="129.55" y="513.80" font-size="7.8" textLength="24.79" lengthAdjust="spacingAndGlyphs" fill="#1e1e1e" class="sm">17.04</text>
<text x="162.55" y="508.20" font-size="7.8" textLength="25.09" lengthAdjust="spacingAndGlyphs" fill="#1e1e1e" class="sm">17.34</text>
<text x="194.45" y="510.60" font-size="7.8" textLength="25.09" lengthAdjust="spacingAndGlyphs" fill="#1e1e1e" class="sm">17.47</text>
<text x="235.75" y="513.40" font-size="7.8" textLength="25.19" lengthAdjust="spacingAndGlyphs" fill="#1e1e1e" class="sm">18.36</text>
<text x="275.15" y="504.30" font-size="7.8" textLength="24.69" lengthAdjust="spacingAndGlyphs" fill="#1e1e1e" class="sm">18.48</text>
<text x="295.85" y="513.10" font-size="7.8" textLength="24.79" lengthAdjust="spacingAndGlyphs" fill="#1e1e1e" class="sm">19.09</text>
<text x="327.45" y="511.70" font-size="7.8" textLength="24.89" lengthAdjust="spacingAndGlyphs" fill="#1e1e1e" class="sm">19.28</text>
<text x="359.35" y="514.60" font-size="7.8" textLength="25.09" lengthAdjust="spacingAndGlyphs" fill="#1e1e1e" class="sm">19.43</text>
<line x1="417.60" y1="35.00" x2="417.60" y2="254.55" stroke="#6e6e6e" stroke-width="0.9"/>
<line x1="417.60" y1="254.25" x2="681.50" y2="254.25" stroke="#9a9a9a" stroke-width="0.9"/>
<line x1="414.20" y1="253.50" x2="417.60" y2="253.50" stroke="#6e6e6e" stroke-width="0.9"/>
<line x1="415.10" y1="249.50" x2="417.60" y2="249.50" stroke="#6e6e6e" stroke-width="0.9"/>
<line x1="415.10" y1="245.50" x2="417.60" y2="245.50" stroke="#6e6e6e" stroke-width="0.9"/>
<line x1="415.10" y1="240.50" x2="417.60" y2="240.50" stroke="#6e6e6e" stroke-width="0.9"/>
<line x1="415.10" y1="236.50" x2="417.60" y2="236.50" stroke="#6e6e6e" stroke-width="0.9"/>
<line x1="414.20" y1="231.50" x2="417.60" y2="231.50" stroke="#6e6e6e" stroke-width="0.9"/>
<line x1="415.10" y1="227.50" x2="417.60" y2="227.50" stroke="#6e6e6e" stroke-width="0.9"/>
<line x1="415.10" y1="223.50" x2="417.60" y2="223.50" stroke="#6e6e6e" stroke-width="0.9"/>
<line x1="415.10" y1="218.50" x2="417.60" y2="218.50" stroke="#6e6e6e" stroke-width="0.9"/>
<line x1="415.10" y1="214.50" x2="417.60" y2="214.50" stroke="#6e6e6e" stroke-width="0.9"/>
<line x1="414.20" y1="210.50" x2="417.60" y2="210.50" stroke="#6e6e6e" stroke-width="0.9"/>
<line x1="415.10" y1="205.50" x2="417.60" y2="205.50" stroke="#6e6e6e" stroke-width="0.9"/>
<line x1="415.10" y1="201.50" x2="417.60" y2="201.50" stroke="#6e6e6e" stroke-width="0.9"/>
<line x1="415.10" y1="196.50" x2="417.60" y2="196.50" stroke="#6e6e6e" stroke-width="0.9"/>
<line x1="415.10" y1="192.50" x2="417.60" y2="192.50" stroke="#6e6e6e" stroke-width="0.9"/>
<line x1="414.20" y1="188.50" x2="417.60" y2="188.50" stroke="#6e6e6e" stroke-width="0.9"/>
<line x1="415.10" y1="183.50" x2="417.60" y2="183.50" stroke="#6e6e6e" stroke-width="0.9"/>
<line x1="415.10" y1="179.50" x2="417.60" y2="179.50" stroke="#6e6e6e" stroke-width="0.9"/>
<line x1="415.10" y1="175.50" x2="417.60" y2="175.50" stroke="#6e6e6e" stroke-width="0.9"/>
<line x1="415.10" y1="170.50" x2="417.60" y2="170.50" stroke="#6e6e6e" stroke-width="0.9"/>
<line x1="414.20" y1="166.50" x2="417.60" y2="166.50" stroke="#6e6e6e" stroke-width="0.9"/>
<line x1="415.10" y1="161.50" x2="417.60" y2="161.50" stroke="#6e6e6e" stroke-width="0.9"/>
<line x1="415.10" y1="157.50" x2="417.60" y2="157.50" stroke="#6e6e6e" stroke-width="0.9"/>
<line x1="415.10" y1="153.50" x2="417.60" y2="153.50" stroke="#6e6e6e" stroke-width="0.9"/>
<line x1="415.10" y1="148.50" x2="417.60" y2="148.50" stroke="#6e6e6e" stroke-width="0.9"/>
<line x1="414.20" y1="144.50" x2="417.60" y2="144.50" stroke="#6e6e6e" stroke-width="0.9"/>
<line x1="415.10" y1="140.50" x2="417.60" y2="140.50" stroke="#6e6e6e" stroke-width="0.9"/>
<line x1="415.10" y1="135.50" x2="417.60" y2="135.50" stroke="#6e6e6e" stroke-width="0.9"/>
<line x1="415.10" y1="131.50" x2="417.60" y2="131.50" stroke="#6e6e6e" stroke-width="0.9"/>
<line x1="415.10" y1="126.50" x2="417.60" y2="126.50" stroke="#6e6e6e" stroke-width="0.9"/>
<line x1="414.20" y1="122.50" x2="417.60" y2="122.50" stroke="#6e6e6e" stroke-width="0.9"/>
<line x1="415.10" y1="118.50" x2="417.60" y2="118.50" stroke="#6e6e6e" stroke-width="0.9"/>
<line x1="415.10" y1="113.50" x2="417.60" y2="113.50" stroke="#6e6e6e" stroke-width="0.9"/>
<line x1="415.10" y1="109.50" x2="417.60" y2="109.50" stroke="#6e6e6e" stroke-width="0.9"/>
<line x1="415.10" y1="105.50" x2="417.60" y2="105.50" stroke="#6e6e6e" stroke-width="0.9"/>
<line x1="414.20" y1="100.50" x2="417.60" y2="100.50" stroke="#6e6e6e" stroke-width="0.9"/>
<line x1="415.10" y1="96.50" x2="417.60" y2="96.50" stroke="#6e6e6e" stroke-width="0.9"/>
<line x1="415.10" y1="91.50" x2="417.60" y2="91.50" stroke="#6e6e6e" stroke-width="0.9"/>
<line x1="415.10" y1="87.50" x2="417.60" y2="87.50" stroke="#6e6e6e" stroke-width="0.9"/>
<line x1="415.10" y1="83.50" x2="417.60" y2="83.50" stroke="#6e6e6e" stroke-width="0.9"/>
<line x1="414.20" y1="78.50" x2="417.60" y2="78.50" stroke="#6e6e6e" stroke-width="0.9"/>
<line x1="415.10" y1="74.50" x2="417.60" y2="74.50" stroke="#6e6e6e" stroke-width="0.9"/>
<line x1="415.10" y1="70.50" x2="417.60" y2="70.50" stroke="#6e6e6e" stroke-width="0.9"/>
<line x1="415.10" y1="65.50" x2="417.60" y2="65.50" stroke="#6e6e6e" stroke-width="0.9"/>
<line x1="415.10" y1="61.50" x2="417.60" y2="61.50" stroke="#6e6e6e" stroke-width="0.9"/>
<line x1="414.20" y1="56.50" x2="417.60" y2="56.50" stroke="#6e6e6e" stroke-width="0.9"/>
<line x1="415.10" y1="52.50" x2="417.60" y2="52.50" stroke="#6e6e6e" stroke-width="0.9"/>
<line x1="415.10" y1="48.50" x2="417.60" y2="48.50" stroke="#6e6e6e" stroke-width="0.9"/>
<line x1="415.10" y1="43.50" x2="417.60" y2="43.50" stroke="#6e6e6e" stroke-width="0.9"/>
<line x1="415.10" y1="39.50" x2="417.60" y2="39.50" stroke="#6e6e6e" stroke-width="0.9"/>
<line x1="414.20" y1="35.50" x2="417.60" y2="35.50" stroke="#6e6e6e" stroke-width="0.9"/>
<text x="409.41" y="256.30" font-size="7.0" textLength="4.18" lengthAdjust="spacingAndGlyphs" fill="#1e1e1e" class="sm">0</text>
<text x="406.01" y="234.43" font-size="7.0" textLength="7.58" lengthAdjust="spacingAndGlyphs" fill="#1e1e1e" class="sm">10</text>
<text x="406.01" y="212.56" font-size="7.0" textLength="7.58" lengthAdjust="spacingAndGlyphs" fill="#1e1e1e" class="sm">20</text>
<text x="406.01" y="190.69" font-size="7.0" textLength="7.58" lengthAdjust="spacingAndGlyphs" fill="#1e1e1e" class="sm">30</text>
<text x="406.01" y="168.82" font-size="7.0" textLength="7.58" lengthAdjust="spacingAndGlyphs" fill="#1e1e1e" class="sm">40</text>
<text x="406.01" y="146.95" font-size="7.0" textLength="7.58" lengthAdjust="spacingAndGlyphs" fill="#1e1e1e" class="sm">50</text>
<text x="406.01" y="125.08" font-size="7.0" textLength="7.58" lengthAdjust="spacingAndGlyphs" fill="#1e1e1e" class="sm">60</text>
<text x="406.01" y="103.21" font-size="7.0" textLength="7.58" lengthAdjust="spacingAndGlyphs" fill="#1e1e1e" class="sm">70</text>
<text x="406.01" y="81.34" font-size="7.0" textLength="7.58" lengthAdjust="spacingAndGlyphs" fill="#1e1e1e" class="sm">80</text>
<text x="406.01" y="59.47" font-size="7.0" textLength="7.58" lengthAdjust="spacingAndGlyphs" fill="#1e1e1e" class="sm">90</text>
<text x="402.61" y="37.60" font-size="7.0" textLength="10.98" lengthAdjust="spacingAndGlyphs" fill="#1e1e1e" class="sm">100</text>
<line x1="416.50" y1="254.25" x2="416.50" y2="257.05" stroke="#606060" stroke-width="0.9"/>
<line x1="419.50" y1="254.25" x2="419.50" y2="255.65" stroke="#555" stroke-width="0.9"/>
<line x1="421.50" y1="254.25" x2="421.50" y2="255.65" stroke="#555" stroke-width="0.9"/>
<line x1="423.50" y1="254.25" x2="423.50" y2="255.65" stroke="#555" stroke-width="0.9"/>
<line x1="425.50" y1="254.25" x2="425.50" y2="255.65" stroke="#555" stroke-width="0.9"/>
<line x1="427.50" y1="254.25" x2="427.50" y2="257.05" stroke="#606060" stroke-width="0.9"/>
<line x1="429.50" y1="254.25" x2="429.50" y2="255.65" stroke="#555" stroke-width="0.9"/>
<line x1="431.50" y1="254.25" x2="431.50" y2="255.65" stroke="#555" stroke-width="0.9"/>
<line x1="434.50" y1="254.25" x2="434.50" y2="255.65" stroke="#555" stroke-width="0.9"/>
<line x1="436.50" y1="254.25" x2="436.50" y2="255.65" stroke="#555" stroke-width="0.9"/>
<line x1="438.50" y1="254.25" x2="438.50" y2="257.05" stroke="#606060" stroke-width="0.9"/>
<line x1="440.50" y1="254.25" x2="440.50" y2="255.65" stroke="#555" stroke-width="0.9"/>
<line x1="442.50" y1="254.25" x2="442.50" y2="255.65" stroke="#555" stroke-width="0.9"/>
<line x1="444.50" y1="254.25" x2="444.50" y2="255.65" stroke="#555" stroke-width="0.9"/>
<line x1="446.50" y1="254.25" x2="446.50" y2="255.65" stroke="#555" stroke-width="0.9"/>
<line x1="449.50" y1="254.25" x2="449.50" y2="258.05" stroke="#606060" stroke-width="0.9"/>
<line x1="451.50" y1="254.25" x2="451.50" y2="255.65" stroke="#555" stroke-width="0.9"/>
<line x1="453.50" y1="254.25" x2="453.50" y2="255.65" stroke="#555" stroke-width="0.9"/>
<line x1="455.50" y1="254.25" x2="455.50" y2="255.65" stroke="#555" stroke-width="0.9"/>
<line x1="457.50" y1="254.25" x2="457.50" y2="255.65" stroke="#555" stroke-width="0.9"/>
<line x1="459.50" y1="254.25" x2="459.50" y2="257.05" stroke="#606060" stroke-width="0.9"/>
<line x1="461.50" y1="254.25" x2="461.50" y2="255.65" stroke="#555" stroke-width="0.9"/>
<line x1="464.50" y1="254.25" x2="464.50" y2="255.65" stroke="#555" stroke-width="0.9"/>
<line x1="466.50" y1="254.25" x2="466.50" y2="255.65" stroke="#555" stroke-width="0.9"/>
<line x1="468.50" y1="254.25" x2="468.50" y2="255.65" stroke="#555" stroke-width="0.9"/>
<line x1="470.50" y1="254.25" x2="470.50" y2="257.05" stroke="#606060" stroke-width="0.9"/>
<line x1="472.50" y1="254.25" x2="472.50" y2="255.65" stroke="#555" stroke-width="0.9"/>
<line x1="474.50" y1="254.25" x2="474.50" y2="255.65" stroke="#555" stroke-width="0.9"/>
<line x1="476.50" y1="254.25" x2="476.50" y2="255.65" stroke="#555" stroke-width="0.9"/>
<line x1="478.50" y1="254.25" x2="478.50" y2="255.65" stroke="#555" stroke-width="0.9"/>
<line x1="481.50" y1="254.25" x2="481.50" y2="257.05" stroke="#606060" stroke-width="0.9"/>
<line x1="483.50" y1="254.25" x2="483.50" y2="255.65" stroke="#555" stroke-width="0.9"/>
<line x1="485.50" y1="254.25" x2="485.50" y2="255.65" stroke="#555" stroke-width="0.9"/>
<line x1="487.50" y1="254.25" x2="487.50" y2="255.65" stroke="#555" stroke-width="0.9"/>
<line x1="489.50" y1="254.25" x2="489.50" y2="255.65" stroke="#555" stroke-width="0.9"/>
<line x1="491.50" y1="254.25" x2="491.50" y2="257.05" stroke="#606060" stroke-width="0.9"/>
<line x1="493.50" y1="254.25" x2="493.50" y2="255.65" stroke="#555" stroke-width="0.9"/>
<line x1="496.50" y1="254.25" x2="496.50" y2="255.65" stroke="#555" stroke-width="0.9"/>
<line x1="498.50" y1="254.25" x2="498.50" y2="255.65" stroke="#555" stroke-width="0.9"/>
<line x1="500.50" y1="254.25" x2="500.50" y2="255.65" stroke="#555" stroke-width="0.9"/>
<line x1="502.50" y1="254.25" x2="502.50" y2="258.05" stroke="#606060" stroke-width="0.9"/>
<line x1="504.50" y1="254.25" x2="504.50" y2="255.65" stroke="#555" stroke-width="0.9"/>
<line x1="506.50" y1="254.25" x2="506.50" y2="255.65" stroke="#555" stroke-width="0.9"/>
<line x1="508.50" y1="254.25" x2="508.50" y2="255.65" stroke="#555" stroke-width="0.9"/>
<line x1="511.50" y1="254.25" x2="511.50" y2="255.65" stroke="#555" stroke-width="0.9"/>
<line x1="513.50" y1="254.25" x2="513.50" y2="257.05" stroke="#606060" stroke-width="0.9"/>
<line x1="515.50" y1="254.25" x2="515.50" y2="255.65" stroke="#555" stroke-width="0.9"/>
<line x1="517.50" y1="254.25" x2="517.50" y2="255.65" stroke="#555" stroke-width="0.9"/>
<line x1="519.50" y1="254.25" x2="519.50" y2="255.65" stroke="#555" stroke-width="0.9"/>
<line x1="521.50" y1="254.25" x2="521.50" y2="255.65" stroke="#555" stroke-width="0.9"/>
<line x1="523.50" y1="254.25" x2="523.50" y2="257.05" stroke="#606060" stroke-width="0.9"/>
<line x1="526.50" y1="254.25" x2="526.50" y2="255.65" stroke="#555" stroke-width="0.9"/>
<line x1="528.50" y1="254.25" x2="528.50" y2="255.65" stroke="#555" stroke-width="0.9"/>
<line x1="530.50" y1="254.25" x2="530.50" y2="255.65" stroke="#555" stroke-width="0.9"/>
<line x1="532.50" y1="254.25" x2="532.50" y2="255.65" stroke="#555" stroke-width="0.9"/>
<line x1="534.50" y1="254.25" x2="534.50" y2="257.05" stroke="#606060" stroke-width="0.9"/>
<line x1="536.50" y1="254.25" x2="536.50" y2="255.65" stroke="#555" stroke-width="0.9"/>
<line x1="538.50" y1="254.25" x2="538.50" y2="255.65" stroke="#555" stroke-width="0.9"/>
<line x1="540.50" y1="254.25" x2="540.50" y2="255.65" stroke="#555" stroke-width="0.9"/>
<line x1="543.50" y1="254.25" x2="543.50" y2="255.65" stroke="#555" stroke-width="0.9"/>
<line x1="545.50" y1="254.25" x2="545.50" y2="257.05" stroke="#606060" stroke-width="0.9"/>
<line x1="547.50" y1="254.25" x2="547.50" y2="255.65" stroke="#555" stroke-width="0.9"/>
<line x1="549.50" y1="254.25" x2="549.50" y2="255.65" stroke="#555" stroke-width="0.9"/>
<line x1="551.50" y1="254.25" x2="551.50" y2="255.65" stroke="#555" stroke-width="0.9"/>
<line x1="553.50" y1="254.25" x2="553.50" y2="255.65" stroke="#555" stroke-width="0.9"/>
<line x1="555.50" y1="254.25" x2="555.50" y2="258.05" stroke="#606060" stroke-width="0.9"/>
<line x1="558.50" y1="254.25" x2="558.50" y2="255.65" stroke="#555" stroke-width="0.9"/>
<line x1="560.50" y1="254.25" x2="560.50" y2="255.65" stroke="#555" stroke-width="0.9"/>
<line x1="562.50" y1="254.25" x2="562.50" y2="255.65" stroke="#555" stroke-width="0.9"/>
<line x1="564.50" y1="254.25" x2="564.50" y2="255.65" stroke="#555" stroke-width="0.9"/>
<line x1="566.50" y1="254.25" x2="566.50" y2="257.05" stroke="#606060" stroke-width="0.9"/>
<line x1="568.50" y1="254.25" x2="568.50" y2="255.65" stroke="#555" stroke-width="0.9"/>
<line x1="570.50" y1="254.25" x2="570.50" y2="255.65" stroke="#555" stroke-width="0.9"/>
<line x1="573.50" y1="254.25" x2="573.50" y2="255.65" stroke="#555" stroke-width="0.9"/>
<line x1="575.50" y1="254.25" x2="575.50" y2="255.65" stroke="#555" stroke-width="0.9"/>
<line x1="577.50" y1="254.25" x2="577.50" y2="257.05" stroke="#606060" stroke-width="0.9"/>
<line x1="579.50" y1="254.25" x2="579.50" y2="255.65" stroke="#555" stroke-width="0.9"/>
<line x1="581.50" y1="254.25" x2="581.50" y2="255.65" stroke="#555" stroke-width="0.9"/>
<line x1="583.50" y1="254.25" x2="583.50" y2="255.65" stroke="#555" stroke-width="0.9"/>
<line x1="585.50" y1="254.25" x2="585.50" y2="255.65" stroke="#555" stroke-width="0.9"/>
<line x1="588.50" y1="254.25" x2="588.50" y2="257.05" stroke="#606060" stroke-width="0.9"/>
<line x1="590.50" y1="254.25" x2="590.50" y2="255.65" stroke="#555" stroke-width="0.9"/>
<line x1="592.50" y1="254.25" x2="592.50" y2="255.65" stroke="#555" stroke-width="0.9"/>
<line x1="594.50" y1="254.25" x2="594.50" y2="255.65" stroke="#555" stroke-width="0.9"/>
<line x1="596.50" y1="254.25" x2="596.50" y2="255.65" stroke="#555" stroke-width="0.9"/>
<line x1="598.50" y1="254.25" x2="598.50" y2="257.05" stroke="#606060" stroke-width="0.9"/>
<line x1="600.50" y1="254.25" x2="600.50" y2="255.65" stroke="#555" stroke-width="0.9"/>
<line x1="602.50" y1="254.25" x2="602.50" y2="255.65" stroke="#555" stroke-width="0.9"/>
<line x1="605.50" y1="254.25" x2="605.50" y2="255.65" stroke="#555" stroke-width="0.9"/>
<line x1="607.50" y1="254.25" x2="607.50" y2="255.65" stroke="#555" stroke-width="0.9"/>
<line x1="609.50" y1="254.25" x2="609.50" y2="258.05" stroke="#606060" stroke-width="0.9"/>
<line x1="611.50" y1="254.25" x2="611.50" y2="255.65" stroke="#555" stroke-width="0.9"/>
<line x1="613.50" y1="254.25" x2="613.50" y2="255.65" stroke="#555" stroke-width="0.9"/>
<line x1="615.50" y1="254.25" x2="615.50" y2="255.65" stroke="#555" stroke-width="0.9"/>
<line x1="617.50" y1="254.25" x2="617.50" y2="255.65" stroke="#555" stroke-width="0.9"/>
<line x1="620.50" y1="254.25" x2="620.50" y2="257.05" stroke="#606060" stroke-width="0.9"/>
<line x1="622.50" y1="254.25" x2="622.50" y2="255.65" stroke="#555" stroke-width="0.9"/>
<line x1="624.50" y1="254.25" x2="624.50" y2="255.65" stroke="#555" stroke-width="0.9"/>
<line x1="626.50" y1="254.25" x2="626.50" y2="255.65" stroke="#555" stroke-width="0.9"/>
<line x1="628.50" y1="254.25" x2="628.50" y2="255.65" stroke="#555" stroke-width="0.9"/>
<line x1="630.50" y1="254.25" x2="630.50" y2="257.05" stroke="#606060" stroke-width="0.9"/>
<line x1="632.50" y1="254.25" x2="632.50" y2="255.65" stroke="#555" stroke-width="0.9"/>
<line x1="635.50" y1="254.25" x2="635.50" y2="255.65" stroke="#555" stroke-width="0.9"/>
<line x1="637.50" y1="254.25" x2="637.50" y2="255.65" stroke="#555" stroke-width="0.9"/>
<line x1="639.50" y1="254.25" x2="639.50" y2="255.65" stroke="#555" stroke-width="0.9"/>
<line x1="641.50" y1="254.25" x2="641.50" y2="257.05" stroke="#606060" stroke-width="0.9"/>
<line x1="643.50" y1="254.25" x2="643.50" y2="255.65" stroke="#555" stroke-width="0.9"/>
<line x1="645.50" y1="254.25" x2="645.50" y2="255.65" stroke="#555" stroke-width="0.9"/>
<line x1="647.50" y1="254.25" x2="647.50" y2="255.65" stroke="#555" stroke-width="0.9"/>
<line x1="650.50" y1="254.25" x2="650.50" y2="255.65" stroke="#555" stroke-width="0.9"/>
<line x1="652.50" y1="254.25" x2="652.50" y2="257.05" stroke="#606060" stroke-width="0.9"/>
<line x1="654.50" y1="254.25" x2="654.50" y2="255.65" stroke="#555" stroke-width="0.9"/>
<line x1="656.50" y1="254.25" x2="656.50" y2="255.65" stroke="#555" stroke-width="0.9"/>
<line x1="658.50" y1="254.25" x2="658.50" y2="255.65" stroke="#555" stroke-width="0.9"/>
<line x1="660.50" y1="254.25" x2="660.50" y2="255.65" stroke="#555" stroke-width="0.9"/>
<line x1="662.50" y1="254.25" x2="662.50" y2="258.05" stroke="#606060" stroke-width="0.9"/>
<line x1="664.50" y1="254.25" x2="664.50" y2="255.65" stroke="#555" stroke-width="0.9"/>
<line x1="667.50" y1="254.25" x2="667.50" y2="255.65" stroke="#555" stroke-width="0.9"/>
<line x1="669.50" y1="254.25" x2="669.50" y2="255.65" stroke="#555" stroke-width="0.9"/>
<line x1="671.50" y1="254.25" x2="671.50" y2="255.65" stroke="#555" stroke-width="0.9"/>
<line x1="673.50" y1="254.25" x2="673.50" y2="257.05" stroke="#606060" stroke-width="0.9"/>
<line x1="675.50" y1="254.25" x2="675.50" y2="255.65" stroke="#555" stroke-width="0.9"/>
<line x1="677.50" y1="254.25" x2="677.50" y2="255.65" stroke="#555" stroke-width="0.9"/>
<line x1="679.50" y1="254.25" x2="679.50" y2="255.65" stroke="#555" stroke-width="0.9"/>
<polyline points="418.10,253.54 419.00,254.36 419.90,253.76 420.80,254.51 421.70,254.21 422.60,253.83 423.50,253.64 424.40,253.78 425.30,254.20 426.20,254.27 427.10,253.62 428.00,253.58 428.90,254.08 429.80,254.14 430.70,253.93 431.60,253.75 432.50,254.16 433.40,253.51 434.30,253.83 435.20,254.01 436.10,254.55 437.00,254.21 437.90,254.47 438.80,254.02 439.70,253.76 440.60,253.77 441.50,254.56 442.40,254.28 443.30,253.84 444.20,253.52 445.10,254.05 446.00,254.24 446.90,253.96 447.80,253.78 448.70,254.23 449.60,254.52 450.50,253.75 451.40,253.54 452.30,253.87 453.20,253.96 454.10,254.25 455.00,253.72 455.90,254.38 456.80,254.31 457.70,254.06 458.60,253.73 459.50,254.57 460.40,253.84 461.30,254.40 462.20,253.75 463.10,253.74 464.00,254.34 464.90,253.82 465.80,254.55 466.70,254.05 467.60,253.71 468.50,253.75 469.40,253.96 470.30,254.23 471.20,254.54 472.10,253.66 473.00,253.93 473.90,253.73 474.80,254.57 475.70,253.66 476.60,253.56 477.50,253.57 478.40,253.93 479.30,254.49 480.20,254.47 481.10,254.31 482.00,254.60 482.90,254.52 483.80,253.86 484.70,253.70 485.60,254.53 486.50,254.32 487.40,253.54 488.30,254.23 489.20,253.92 490.10,253.91 491.00,253.86 491.90,253.69 492.80,253.50 493.70,253.81 494.60,253.89 495.50,254.55 496.40,253.64 497.30,254.56 498.20,253.73 499.10,253.89 500.00,254.40 500.90,254.40 501.80,253.98 502.70,253.55 503.60,254.02 504.50,253.91 505.40,254.51 506.30,253.71 507.20,253.90 508.10,254.49 509.00,253.53 509.90,253.95 510.80,254.39 511.70,254.34 512.60,253.54 513.50,253.54 514.40,253.57 515.30,254.51 516.20,253.78 517.10,254.32 518.00,254.49 518.90,253.87 519.80,253.80 520.70,254.55 521.60,254.18 522.50,253.79 523.40,254.29 524.30,253.85 525.20,253.80 526.10,253.50 527.00,254.33 527.90,254.51 528.80,254.20 529.70,254.54 530.60,253.53 531.50,253.76 532.40,254.02 533.30,254.55 534.20,254.55 535.10,253.93 536.00,253.78 536.90,253.97 537.80,254.04 538.70,254.52 539.60,253.70 540.50,254.38 541.40,254.31 542.30,254.41 543.20,254.35 544.10,254.17 545.00,253.86 545.90,253.85 546.80,253.90 547.70,254.36 548.60,253.59 549.50,253.72 550.40,254.33 551.30,253.77 552.20,253.57 553.10,253.54 554.00,254.11 554.90,253.86 555.80,254.58 556.70,254.47 557.60,254.59 558.50,253.79 559.40,253.59 560.30,253.61 561.20,254.05 562.10,254.28 563.00,253.99 563.90,253.76 564.80,253.96 565.70,254.18 566.60,254.24 567.50,254.32 568.40,254.43 569.30,254.23 570.20,253.63 571.10,254.42 572.00,253.82 572.90,254.12 573.80,253.91 574.70,254.31 575.60,253.72 576.50,253.77 577.40,253.77 578.30,253.67 579.20,254.47 580.10,254.14 581.00,253.86 581.90,253.94 582.80,254.59 583.70,254.06 584.60,253.75 585.50,254.39 586.40,254.22 587.30,254.59 588.20,253.61 589.10,254.02 590.00,254.40 590.90,254.42 591.80,254.51 592.70,253.54 593.60,253.82 594.50,253.63 595.40,253.71 596.30,254.57 597.20,254.14 598.10,254.52 599.00,253.91 599.90,254.45 600.80,253.99 601.70,253.79 602.60,254.36 603.50,254.54 604.40,253.62 605.30,254.16 606.20,254.18 607.10,253.74 608.00,253.91 608.90,253.66 609.80,253.72 610.70,253.78 611.60,254.16 612.50,254.22 613.40,253.72 614.30,253.51 615.20,253.86 616.10,254.25 617.00,253.70 617.90,253.84 618.80,253.72 619.70,254.37 620.60,254.10 621.50,253.57 622.40,253.61 623.30,253.93 624.20,254.11 625.10,254.20 626.00,253.60 626.90,253.68 627.80,254.26 628.70,253.95 629.60,253.81 630.50,253.84 631.40,254.55 632.30,253.84 633.20,254.12 634.10,253.89 635.00,253.96 635.90,254.45 636.80,254.60 637.70,253.90 638.60,253.72 639.50,254.30 640.40,253.72 641.30,253.51 642.20,254.49 643.10,253.97 644.00,254.40 644.90,253.95 645.80,254.47 646.70,254.01 647.60,253.68 648.50,253.52 649.40,254.11 650.30,254.20 651.20,254.50 652.10,253.60 653.00,254.18 653.90,253.91 654.80,254.05 655.70,253.66 656.60,253.81 657.50,254.07 658.40,254.52 659.30,253.62 660.20,254.04 661.10,254.39 662.00,254.56 662.90,253.72 663.80,253.64 664.70,254.54 665.60,254.57 666.50,254.03 667.40,253.56 668.30,254.52 669.20,253.93 670.10,254.49 671.00,254.18 671.90,254.41 672.80,253.68 673.70,254.36 674.60,253.74 675.50,253.94 676.40,254.43 677.30,254.41 678.20,253.70 679.10,253.74 680.00,253.94 680.90,254.07" fill="none" stroke="#2a2a2a" stroke-width="0.6" stroke-linejoin="round" />
<line x1="425.43" y1="253.80" x2="425.43" y2="248.33" stroke="#9a9a9a" stroke-width="1.3"/>
<line x1="426.71" y1="253.80" x2="426.71" y2="248.33" stroke="#9a9a9a" stroke-width="1.3"/>
<line x1="437.29" y1="253.80" x2="437.29" y2="248.11" stroke="#9a9a9a" stroke-width="0.8"/>
<line x1="439.43" y1="253.80" x2="439.43" y2="237.83" stroke="#d4d4d4" stroke-width="2.0"/>
<line x1="441.57" y1="253.80" x2="441.57" y2="250.30" stroke="#c4c4c4" stroke-width="1"/>
<line x1="443.71" y1="253.80" x2="443.71" y2="245.93" stroke="#9a9a9a" stroke-width="0.9"/>
<line x1="450.12" y1="253.80" x2="450.12" y2="250.74" stroke="#9a9a9a" stroke-width="0.8"/>
<line x1="452.26" y1="253.80" x2="452.26" y2="249.86" stroke="#9a9a9a" stroke-width="0.8"/>
<line x1="454.40" y1="253.80" x2="454.40" y2="251.61" stroke="#9a9a9a" stroke-width="0.8"/>
<line x1="456.53" y1="253.80" x2="456.53" y2="243.74" stroke="#5a5a5a" stroke-width="0.8"/>
<line x1="462.95" y1="253.80" x2="462.95" y2="251.61" stroke="#9a9a9a" stroke-width="0.8"/>
<line x1="465.09" y1="253.80" x2="465.09" y2="245.93" stroke="#5a5a5a" stroke-width="0.8"/>
<line x1="467.22" y1="253.80" x2="467.22" y2="251.61" stroke="#9a9a9a" stroke-width="0.8"/>
<line x1="469.36" y1="253.80" x2="469.36" y2="251.18" stroke="#9a9a9a" stroke-width="0.8"/>
<line x1="477.91" y1="253.80" x2="477.91" y2="246.80" stroke="#9a9a9a" stroke-width="0.9"/>
<line x1="480.05" y1="253.80" x2="480.05" y2="250.52" stroke="#9a9a9a" stroke-width="0.8"/>
<line x1="490.74" y1="253.80" x2="490.74" y2="251.18" stroke="#9a9a9a" stroke-width="0.8"/>
<line x1="492.88" y1="253.80" x2="492.88" y2="226.03" stroke="#5a5a5a" stroke-width="0.9"/>
<line x1="493.95" y1="253.80" x2="493.95" y2="250.74" stroke="#9a9a9a" stroke-width="0.8"/>
<line x1="499.29" y1="253.80" x2="499.29" y2="250.08" stroke="#5a5a5a" stroke-width="0.8"/>
<line x1="504.64" y1="253.80" x2="504.64" y2="249.64" stroke="#9a9a9a" stroke-width="0.8"/>
<line x1="505.71" y1="253.80" x2="505.71" y2="248.55" stroke="#9a9a9a" stroke-width="0.8"/>
<line x1="506.78" y1="253.80" x2="506.78" y2="246.80" stroke="#9a9a9a" stroke-width="0.9"/>
<line x1="507.85" y1="253.80" x2="507.85" y2="243.30" stroke="#9a9a9a" stroke-width="0.9"/>
<line x1="509.98" y1="253.80" x2="509.98" y2="251.61" stroke="#9a9a9a" stroke-width="0.8"/>
<line x1="518.53" y1="253.80" x2="518.53" y2="231.71" stroke="#c4c4c4" stroke-width="1.5"/>
<line x1="519.60" y1="253.80" x2="519.60" y2="243.52" stroke="#5a5a5a" stroke-width="0.9"/>
<line x1="520.67" y1="253.80" x2="520.67" y2="213.56" stroke="#c4c4c4" stroke-width="1.5"/>
<line x1="521.74" y1="253.80" x2="521.74" y2="248.99" stroke="#9a9a9a" stroke-width="0.8"/>
<line x1="522.81" y1="253.80" x2="522.81" y2="246.58" stroke="#5a5a5a" stroke-width="0.8"/>
<line x1="531.36" y1="253.80" x2="531.36" y2="248.99" stroke="#9a9a9a" stroke-width="0.8"/>
<line x1="532.43" y1="253.80" x2="532.43" y2="243.52" stroke="#9a9a9a" stroke-width="1"/>
<line x1="533.50" y1="253.80" x2="533.50" y2="247.68" stroke="#9a9a9a" stroke-width="0.8"/>
<line x1="535.64" y1="253.80" x2="535.64" y2="194.75" stroke="#c4c4c4" stroke-width="1.6"/>
<line x1="536.71" y1="253.80" x2="536.71" y2="226.24" stroke="#5a5a5a" stroke-width="0.9"/>
<line x1="537.78" y1="253.80" x2="537.78" y2="249.64" stroke="#9a9a9a" stroke-width="0.8"/>
<line x1="546.33" y1="253.80" x2="546.33" y2="251.61" stroke="#9a9a9a" stroke-width="0.8"/>
<line x1="548.47" y1="253.80" x2="548.47" y2="250.52" stroke="#9a9a9a" stroke-width="0.8"/>
<line x1="550.61" y1="253.80" x2="550.61" y2="241.99" stroke="#c4c4c4" stroke-width="1.3"/>
<line x1="551.67" y1="253.80" x2="551.67" y2="248.55" stroke="#9a9a9a" stroke-width="0.8"/>
<line x1="552.74" y1="253.80" x2="552.74" y2="201.97" stroke="#c4c4c4" stroke-width="1.5"/>
<line x1="553.81" y1="253.80" x2="553.81" y2="247.68" stroke="#9a9a9a" stroke-width="0.8"/>
<line x1="563.43" y1="253.80" x2="563.43" y2="251.61" stroke="#9a9a9a" stroke-width="0.8"/>
<line x1="565.57" y1="253.80" x2="565.57" y2="238.05" stroke="#c4c4c4" stroke-width="1.2"/>
<line x1="566.64" y1="253.80" x2="566.64" y2="251.18" stroke="#9a9a9a" stroke-width="0.8"/>
<line x1="582.67" y1="253.80" x2="582.67" y2="251.61" stroke="#9a9a9a" stroke-width="0.8"/>
<line x1="584.81" y1="253.80" x2="584.81" y2="249.86" stroke="#9a9a9a" stroke-width="0.8"/>
<line x1="612.61" y1="253.80" x2="612.61" y2="251.61" stroke="#9a9a9a" stroke-width="0.8"/>
<line x1="613.68" y1="253.80" x2="613.68" y2="251.18" stroke="#9a9a9a" stroke-width="0.8"/>
<line x1="614.75" y1="253.80" x2="614.75" y2="35.10" stroke="#c4c4c4" stroke-width="1.6"/>
<line x1="615.81" y1="253.80" x2="615.81" y2="226.68" stroke="#9a9a9a" stroke-width="0.9"/>
<line x1="616.88" y1="253.80" x2="616.88" y2="250.52" stroke="#9a9a9a" stroke-width="0.8"/>
<line x1="630.78" y1="253.80" x2="630.78" y2="217.06" stroke="#9a9a9a" stroke-width="1.0"/>
<line x1="631.85" y1="253.80" x2="631.85" y2="247.90" stroke="#9a9a9a" stroke-width="0.9"/>
<text x="421.31" y="246.30" font-size="7.0" textLength="8.78" lengthAdjust="spacingAndGlyphs" fill="#1e1e1e" class="sm">28</text>
<text x="435.31" y="236.60" font-size="7.0" textLength="8.48" lengthAdjust="spacingAndGlyphs" fill="#1e1e1e" class="sm">41</text>
<text x="441.51" y="245.30" font-size="7.0" textLength="8.08" lengthAdjust="spacingAndGlyphs" fill="#1e1e1e" class="sm">45</text>
<text x="452.31" y="242.80" font-size="7.0" textLength="8.08" lengthAdjust="spacingAndGlyphs" fill="#1e1e1e" class="sm">57</text>
<text x="464.11" y="244.00" font-size="7.0" textLength="8.18" lengthAdjust="spacingAndGlyphs" fill="#1e1e1e" class="sm">65</text>
<text x="475.71" y="245.30" font-size="7.0" textLength="7.78" lengthAdjust="spacingAndGlyphs" fill="#1e1e1e" class="sm">77</text>
<text x="489.31" y="223.80" font-size="7.0" textLength="7.48" lengthAdjust="spacingAndGlyphs" fill="#1e1e1e" class="sm">91</text>
<text x="502.51" y="241.00" font-size="7.0" textLength="11.38" lengthAdjust="spacingAndGlyphs" fill="#1e1e1e" class="sm">105</text>
<text x="506.81" y="230.30" font-size="7.0" textLength="11.38" lengthAdjust="spacingAndGlyphs" fill="#1e1e1e" class="sm">115</text>
<text x="515.41" y="211.70" font-size="7.0" textLength="11.38" lengthAdjust="spacingAndGlyphs" fill="#1e1e1e" class="sm">117</text>
<text x="530.51" y="193.70" font-size="7.0" textLength="10.98" lengthAdjust="spacingAndGlyphs" fill="#1e1e1e" class="sm">131</text>
<text x="539.61" y="224.70" font-size="7.0" textLength="11.18" lengthAdjust="spacingAndGlyphs" fill="#1e1e1e" class="sm">132</text>
<text x="547.61" y="199.90" font-size="7.0" textLength="10.78" lengthAdjust="spacingAndGlyphs" fill="#1e1e1e" class="sm">147</text>
<text x="560.61" y="236.30" font-size="7.0" textLength="11.18" lengthAdjust="spacingAndGlyphs" fill="#1e1e1e" class="sm">159</text>
<text x="579.51" y="248.60" font-size="7.0" textLength="11.18" lengthAdjust="spacingAndGlyphs" fill="#1e1e1e" class="sm">177</text>
<text x="601.31" y="250.00" font-size="7.0" textLength="11.68" lengthAdjust="spacingAndGlyphs" fill="#1e1e1e" class="sm">204</text>
<text x="608.71" y="33.70" font-size="7.0" textLength="11.98" lengthAdjust="spacingAndGlyphs" fill="#1e1e1e" class="sm">205</text>
<text x="616.51" y="225.10" font-size="7.0" textLength="11.68" lengthAdjust="spacingAndGlyphs" fill="#1e1e1e" class="sm">206</text>
<text x="624.91" y="215.00" font-size="7.0" textLength="11.38" lengthAdjust="spacingAndGlyphs" fill="#1e1e1e" class="sm">220</text>
<text x="632.51" y="246.60" font-size="7.0" textLength="11.38" lengthAdjust="spacingAndGlyphs" fill="#1e1e1e" class="sm">221</text>
<text x="648.51" y="251.70" font-size="7.0" textLength="11.98" lengthAdjust="spacingAndGlyphs" fill="#1e1e1e" class="sm">234</text>
<text x="668.51" y="251.00" font-size="7.0" textLength="11.88" lengthAdjust="spacingAndGlyphs" fill="#1e1e1e" class="sm">261</text>
<line x1="512.30" y1="231.00" x2="518.70" y2="231.90" stroke="#8fd08f" stroke-width="0.7"/>
<line x1="536.50" y1="226.30" x2="545.00" y2="224.70" stroke="#8fd08f" stroke-width="0.7"/>
<line x1="444.20" y1="246.00" x2="446.50" y2="244.50" stroke="#8fd08f" stroke-width="0.7"/>
<line x1="465.20" y1="245.90" x2="468.50" y2="244.30" stroke="#8fd08f" stroke-width="0.7"/>
<line x1="478.30" y1="246.90" x2="481.00" y2="245.00" stroke="#8fd08f" stroke-width="0.7"/>
<line x1="605.00" y1="249.80" x2="612.00" y2="251.00" stroke="#8fd08f" stroke-width="0.7"/>
<line x1="616.30" y1="226.90" x2="622.00" y2="225.60" stroke="#8fd08f" stroke-width="0.7"/>
<line x1="632.00" y1="248.50" x2="638.00" y2="247.50" stroke="#8fd08f" stroke-width="0.7"/>
<line x1="648.00" y1="252.20" x2="655.00" y2="251.50" stroke="#8fd08f" stroke-width="0.7"/>
<text x="442.47" y="35.70" font-size="19.0" textLength="13.66" lengthAdjust="spacingAndGlyphs" fill="#000" font-weight="bold" >C</text>
<text transform="translate(400.30,174.06) rotate(-90)" x="0" y="0" font-size="6.5" textLength="59.61" lengthAdjust="spacingAndGlyphs" fill="#1e1e1e" class="sm">Relative Abundance</text>
<text x="544.26" y="272.70" font-size="6.3" textLength="10.58" lengthAdjust="spacingAndGlyphs" fill="#1e1e1e" class="sm">m/z</text>
<text x="445.01" y="264.40" font-size="7.0" textLength="8.48" lengthAdjust="spacingAndGlyphs" fill="#1e1e1e" class="sm">50</text>
<text x="496.81" y="264.40" font-size="7.0" textLength="11.38" lengthAdjust="spacingAndGlyphs" fill="#1e1e1e" class="sm">100</text>
<text x="550.31" y="264.40" font-size="7.0" textLength="11.38" lengthAdjust="spacingAndGlyphs" fill="#1e1e1e" class="sm">150</text>
<text x="603.51" y="264.60" font-size="7.0" textLength="12.08" lengthAdjust="spacingAndGlyphs" fill="#1e1e1e" class="sm">200</text>
<text x="657.01" y="264.40" font-size="7.0" textLength="11.48" lengthAdjust="spacingAndGlyphs" fill="#1e1e1e" class="sm">250</text>
<line x1="419.50" y1="321.60" x2="419.50" y2="541.60" stroke="#6e6e6e" stroke-width="0.9"/>
<line x1="419.50" y1="541.30" x2="684.50" y2="541.30" stroke="#9a9a9a" stroke-width="0.9"/>
<line x1="416.10" y1="541.50" x2="419.50" y2="541.50" stroke="#6e6e6e" stroke-width="0.9"/>
<line x1="417.00" y1="536.50" x2="419.50" y2="536.50" stroke="#6e6e6e" stroke-width="0.9"/>
<line x1="417.00" y1="532.50" x2="419.50" y2="532.50" stroke="#6e6e6e" stroke-width="0.9"/>
<line x1="417.00" y1="528.50" x2="419.50" y2="528.50" stroke="#6e6e6e" stroke-width="0.9"/>
<line x1="417.00" y1="523.50" x2="419.50" y2="523.50" stroke="#6e6e6e" stroke-width="0.9"/>
<line x1="416.10" y1="519.50" x2="419.50" y2="519.50" stroke="#6e6e6e" stroke-width="0.9"/>
<line x1="417.00" y1="514.50" x2="419.50" y2="514.50" stroke="#6e6e6e" stroke-width="0.9"/>
<line x1="417.00" y1="510.50" x2="419.50" y2="510.50" stroke="#6e6e6e" stroke-width="0.9"/>
<line x1="417.00" y1="506.50" x2="419.50" y2="506.50" stroke="#6e6e6e" stroke-width="0.9"/>
<line x1="417.00" y1="501.50" x2="419.50" y2="501.50" stroke="#6e6e6e" stroke-width="0.9"/>
<line x1="416.10" y1="497.50" x2="419.50" y2="497.50" stroke="#6e6e6e" stroke-width="0.9"/>
<line x1="417.00" y1="492.50" x2="419.50" y2="492.50" stroke="#6e6e6e" stroke-width="0.9"/>
<line x1="417.00" y1="488.50" x2="419.50" y2="488.50" stroke="#6e6e6e" stroke-width="0.9"/>
<line x1="417.00" y1="484.50" x2="419.50" y2="484.50" stroke="#6e6e6e" stroke-width="0.9"/>
<line x1="417.00" y1="479.50" x2="419.50" y2="479.50" stroke="#6e6e6e" stroke-width="0.9"/>
<line x1="416.10" y1="475.50" x2="419.50" y2="475.50" stroke="#6e6e6e" stroke-width="0.9"/>
<line x1="417.00" y1="470.50" x2="419.50" y2="470.50" stroke="#6e6e6e" stroke-width="0.9"/>
<line x1="417.00" y1="466.50" x2="419.50" y2="466.50" stroke="#6e6e6e" stroke-width="0.9"/>
<line x1="417.00" y1="462.50" x2="419.50" y2="462.50" stroke="#6e6e6e" stroke-width="0.9"/>
<line x1="417.00" y1="457.50" x2="419.50" y2="457.50" stroke="#6e6e6e" stroke-width="0.9"/>
<line x1="416.10" y1="453.50" x2="419.50" y2="453.50" stroke="#6e6e6e" stroke-width="0.9"/>
<line x1="417.00" y1="449.50" x2="419.50" y2="449.50" stroke="#6e6e6e" stroke-width="0.9"/>
<line x1="417.00" y1="444.50" x2="419.50" y2="444.50" stroke="#6e6e6e" stroke-width="0.9"/>
<line x1="417.00" y1="440.50" x2="419.50" y2="440.50" stroke="#6e6e6e" stroke-width="0.9"/>
<line x1="417.00" y1="435.50" x2="419.50" y2="435.50" stroke="#6e6e6e" stroke-width="0.9"/>
<line x1="416.10" y1="431.50" x2="419.50" y2="431.50" stroke="#6e6e6e" stroke-width="0.9"/>
<line x1="417.00" y1="427.50" x2="419.50" y2="427.50" stroke="#6e6e6e" stroke-width="0.9"/>
<line x1="417.00" y1="422.50" x2="419.50" y2="422.50" stroke="#6e6e6e" stroke-width="0.9"/>
<line x1="417.00" y1="418.50" x2="419.50" y2="418.50" stroke="#6e6e6e" stroke-width="0.9"/>
<line x1="417.00" y1="413.50" x2="419.50" y2="413.50" stroke="#6e6e6e" stroke-width="0.9"/>
<line x1="416.10" y1="409.50" x2="419.50" y2="409.50" stroke="#6e6e6e" stroke-width="0.9"/>
<line x1="417.00" y1="405.50" x2="419.50" y2="405.50" stroke="#6e6e6e" stroke-width="0.9"/>
<line x1="417.00" y1="400.50" x2="419.50" y2="400.50" stroke="#6e6e6e" stroke-width="0.9"/>
<line x1="417.00" y1="396.50" x2="419.50" y2="396.50" stroke="#6e6e6e" stroke-width="0.9"/>
<line x1="417.00" y1="391.50" x2="419.50" y2="391.50" stroke="#6e6e6e" stroke-width="0.9"/>
<line x1="416.10" y1="387.50" x2="419.50" y2="387.50" stroke="#6e6e6e" stroke-width="0.9"/>
<line x1="417.00" y1="383.50" x2="419.50" y2="383.50" stroke="#6e6e6e" stroke-width="0.9"/>
<line x1="417.00" y1="378.50" x2="419.50" y2="378.50" stroke="#6e6e6e" stroke-width="0.9"/>
<line x1="417.00" y1="374.50" x2="419.50" y2="374.50" stroke="#6e6e6e" stroke-width="0.9"/>
<line x1="417.00" y1="369.50" x2="419.50" y2="369.50" stroke="#6e6e6e" stroke-width="0.9"/>
<line x1="416.10" y1="365.50" x2="419.50" y2="365.50" stroke="#6e6e6e" stroke-width="0.9"/>
<line x1="417.00" y1="361.50" x2="419.50" y2="361.50" stroke="#6e6e6e" stroke-width="0.9"/>
<line x1="417.00" y1="356.50" x2="419.50" y2="356.50" stroke="#6e6e6e" stroke-width="0.9"/>
<line x1="417.00" y1="352.50" x2="419.50" y2="352.50" stroke="#6e6e6e" stroke-width="0.9"/>
<line x1="417.00" y1="347.50" x2="419.50" y2="347.50" stroke="#6e6e6e" stroke-width="0.9"/>
<line x1="416.10" y1="343.50" x2="419.50" y2="343.50" stroke="#6e6e6e" stroke-width="0.9"/>
<line x1="417.00" y1="339.50" x2="419.50" y2="339.50" stroke="#6e6e6e" stroke-width="0.9"/>
<line x1="417.00" y1="334.50" x2="419.50" y2="334.50" stroke="#6e6e6e" stroke-width="0.9"/>
<line x1="417.00" y1="330.50" x2="419.50" y2="330.50" stroke="#6e6e6e" stroke-width="0.9"/>
<line x1="417.00" y1="325.50" x2="419.50" y2="325.50" stroke="#6e6e6e" stroke-width="0.9"/>
<line x1="416.10" y1="321.50" x2="419.50" y2="321.50" stroke="#6e6e6e" stroke-width="0.9"/>
<text x="411.31" y="543.80" font-size="7.0" textLength="4.18" lengthAdjust="spacingAndGlyphs" fill="#1e1e1e" class="sm">0</text>
<text x="407.91" y="521.83" font-size="7.0" textLength="7.58" lengthAdjust="spacingAndGlyphs" fill="#1e1e1e" class="sm">10</text>
<text x="407.91" y="499.86" font-size="7.0" textLength="7.58" lengthAdjust="spacingAndGlyphs" fill="#1e1e1e" class="sm">20</text>
<text x="407.91" y="477.89" font-size="7.0" textLength="7.58" lengthAdjust="spacingAndGlyphs" fill="#1e1e1e" class="sm">30</text>
<text x="407.91" y="455.92" font-size="7.0" textLength="7.58" lengthAdjust="spacingAndGlyphs" fill="#1e1e1e" class="sm">40</text>
<text x="407.91" y="433.95" font-size="7.0" textLength="7.58" lengthAdjust="spacingAndGlyphs" fill="#1e1e1e" class="sm">50</text>
<text x="407.91" y="411.98" font-size="7.0" textLength="7.58" lengthAdjust="spacingAndGlyphs" fill="#1e1e1e" class="sm">60</text>
<text x="407.91" y="390.01" font-size="7.0" textLength="7.58" lengthAdjust="spacingAndGlyphs" fill="#1e1e1e" class="sm">70</text>
<text x="407.91" y="368.04" font-size="7.0" textLength="7.58" lengthAdjust="spacingAndGlyphs" fill="#1e1e1e" class="sm">80</text>
<text x="407.91" y="346.07" font-size="7.0" textLength="7.58" lengthAdjust="spacingAndGlyphs" fill="#1e1e1e" class="sm">90</text>
<text x="404.51" y="324.10" font-size="7.0" textLength="10.98" lengthAdjust="spacingAndGlyphs" fill="#1e1e1e" class="sm">100</text>
<line x1="418.50" y1="541.30" x2="418.50" y2="544.10" stroke="#606060" stroke-width="0.9"/>
<line x1="421.50" y1="541.30" x2="421.50" y2="542.70" stroke="#555" stroke-width="0.9"/>
<line x1="423.50" y1="541.30" x2="423.50" y2="542.70" stroke="#555" stroke-width="0.9"/>
<line x1="425.50" y1="541.30" x2="425.50" y2="542.70" stroke="#555" stroke-width="0.9"/>
<line x1="427.50" y1="541.30" x2="427.50" y2="542.70" stroke="#555" stroke-width="0.9"/>
<line x1="429.50" y1="541.30" x2="429.50" y2="544.10" stroke="#606060" stroke-width="0.9"/>
<line x1="431.50" y1="541.30" x2="431.50" y2="542.70" stroke="#555" stroke-width="0.9"/>
<line x1="433.50" y1="541.30" x2="433.50" y2="542.70" stroke="#555" stroke-width="0.9"/>
<line x1="436.50" y1="541.30" x2="436.50" y2="542.70" stroke="#555" stroke-width="0.9"/>
<line x1="438.50" y1="541.30" x2="438.50" y2="542.70" stroke="#555" stroke-width="0.9"/>
<line x1="440.50" y1="541.30" x2="440.50" y2="544.10" stroke="#606060" stroke-width="0.9"/>
<line x1="442.50" y1="541.30" x2="442.50" y2="542.70" stroke="#555" stroke-width="0.9"/>
<line x1="444.50" y1="541.30" x2="444.50" y2="542.70" stroke="#555" stroke-width="0.9"/>
<line x1="446.50" y1="541.30" x2="446.50" y2="542.70" stroke="#555" stroke-width="0.9"/>
<line x1="449.50" y1="541.30" x2="449.50" y2="542.70" stroke="#555" stroke-width="0.9"/>
<line x1="451.50" y1="541.30" x2="451.50" y2="545.10" stroke="#606060" stroke-width="0.9"/>
<line x1="453.50" y1="541.30" x2="453.50" y2="542.70" stroke="#555" stroke-width="0.9"/>
<line x1="455.50" y1="541.30" x2="455.50" y2="542.70" stroke="#555" stroke-width="0.9"/>
<line x1="457.50" y1="541.30" x2="457.50" y2="542.70" stroke="#555" stroke-width="0.9"/>
<line x1="459.50" y1="541.30" x2="459.50" y2="542.70" stroke="#555" stroke-width="0.9"/>
<line x1="461.50" y1="541.30" x2="461.50" y2="544.10" stroke="#606060" stroke-width="0.9"/>
<line x1="464.50" y1="541.30" x2="464.50" y2="542.70" stroke="#555" stroke-width="0.9"/>
<line x1="466.50" y1="541.30" x2="466.50" y2="542.70" stroke="#555" stroke-width="0.9"/>
<line x1="468.50" y1="541.30" x2="468.50" y2="542.70" stroke="#555" stroke-width="0.9"/>
<line x1="470.50" y1="541.30" x2="470.50" y2="542.70" stroke="#555" stroke-width="0.9"/>
<line x1="472.50" y1="541.30" x2="472.50" y2="544.10" stroke="#606060" stroke-width="0.9"/>
<line x1="474.50" y1="541.30" x2="474.50" y2="542.70" stroke="#555" stroke-width="0.9"/>
<line x1="476.50" y1="541.30" x2="476.50" y2="542.70" stroke="#555" stroke-width="0.9"/>
<line x1="479.50" y1="541.30" x2="479.50" y2="542.70" stroke="#555" stroke-width="0.9"/>
<line x1="481.50" y1="541.30" x2="481.50" y2="542.70" stroke="#555" stroke-width="0.9"/>
<line x1="483.50" y1="541.30" x2="483.50" y2="544.10" stroke="#606060" stroke-width="0.9"/>
<line x1="485.50" y1="541.30" x2="485.50" y2="542.70" stroke="#555" stroke-width="0.9"/>
<line x1="487.50" y1="541.30" x2="487.50" y2="542.70" stroke="#555" stroke-width="0.9"/>
<line x1="489.50" y1="541.30" x2="489.50" y2="542.70" stroke="#555" stroke-width="0.9"/>
<line x1="491.50" y1="541.30" x2="491.50" y2="542.70" stroke="#555" stroke-width="0.9"/>
<line x1="494.50" y1="541.30" x2="494.50" y2="544.10" stroke="#606060" stroke-width="0.9"/>
<line x1="496.50" y1="541.30" x2="496.50" y2="542.70" stroke="#555" stroke-width="0.9"/>
<line x1="498.50" y1="541.30" x2="498.50" y2="542.70" stroke="#555" stroke-width="0.9"/>
<line x1="500.50" y1="541.30" x2="500.50" y2="542.70" stroke="#555" stroke-width="0.9"/>
<line x1="502.50" y1="541.30" x2="502.50" y2="542.70" stroke="#555" stroke-width="0.9"/>
<line x1="504.50" y1="541.30" x2="504.50" y2="545.10" stroke="#606060" stroke-width="0.9"/>
<line x1="506.50" y1="541.30" x2="506.50" y2="542.70" stroke="#555" stroke-width="0.9"/>
<line x1="509.50" y1="541.30" x2="509.50" y2="542.70" stroke="#555" stroke-width="0.9"/>
<line x1="511.50" y1="541.30" x2="511.50" y2="542.70" stroke="#555" stroke-width="0.9"/>
<line x1="513.50" y1="541.30" x2="513.50" y2="542.70" stroke="#555" stroke-width="0.9"/>
<line x1="515.50" y1="541.30" x2="515.50" y2="544.10" stroke="#606060" stroke-width="0.9"/>
<line x1="517.50" y1="541.30" x2="517.50" y2="542.70" stroke="#555" stroke-width="0.9"/>
<line x1="519.50" y1="541.30" x2="519.50" y2="542.70" stroke="#555" stroke-width="0.9"/>
<line x1="521.50" y1="541.30" x2="521.50" y2="542.70" stroke="#555" stroke-width="0.9"/>
<line x1="524.50" y1="541.30" x2="524.50" y2="542.70" stroke="#555" stroke-width="0.9"/>
<line x1="526.50" y1="541.30" x2="526.50" y2="544.10" stroke="#606060" stroke-width="0.9"/>
<line x1="528.50" y1="541.30" x2="528.50" y2="542.70" stroke="#555" stroke-width="0.9"/>
<line x1="530.50" y1="541.30" x2="530.50" y2="542.70" stroke="#555" stroke-width="0.9"/>
<line x1="532.50" y1="541.30" x2="532.50" y2="542.70" stroke="#555" stroke-width="0.9"/>
<line x1="534.50" y1="541.30" x2="534.50" y2="542.70" stroke="#555" stroke-width="0.9"/>
<line x1="536.50" y1="541.30" x2="536.50" y2="544.10" stroke="#606060" stroke-width="0.9"/>
<line x1="539.50" y1="541.30" x2="539.50" y2="542.70" stroke="#555" stroke-width="0.9"/>
<line x1="541.50" y1="541.30" x2="541.50" y2="542.70" stroke="#555" stroke-width="0.9"/>
<line x1="543.50" y1="541.30" x2="543.50" y2="542.70" stroke="#555" stroke-width="0.9"/>
<line x1="545.50" y1="541.30" x2="545.50" y2="542.70" stroke="#555" stroke-width="0.9"/>
<line x1="547.50" y1="541.30" x2="547.50" y2="544.10" stroke="#606060" stroke-width="0.9"/>
<line x1="549.50" y1="541.30" x2="549.50" y2="542.70" stroke="#555" stroke-width="0.9"/>
<line x1="552.50" y1="541.30" x2="552.50" y2="542.70" stroke="#555" stroke-width="0.9"/>
<line x1="554.50" y1="541.30" x2="554.50" y2="542.70" stroke="#555" stroke-width="0.9"/>
<line x1="556.50" y1="541.30" x2="556.50" y2="542.70" stroke="#555" stroke-width="0.9"/>
<line x1="558.50" y1="541.30" x2="558.50" y2="545.10" stroke="#606060" stroke-width="0.9"/>
<line x1="560.50" y1="541.30" x2="560.50" y2="542.70" stroke="#555" stroke-width="0.9"/>
<line x1="562.50" y1="541.30" x2="562.50" y2="542.70" stroke="#555" stroke-width="0.9"/>
<line x1="564.50" y1="541.30" x2="564.50" y2="542.70" stroke="#555" stroke-width="0.9"/>
<line x1="567.50" y1="541.30" x2="567.50" y2="542.70" stroke="#555" stroke-width="0.9"/>
<line x1="569.50" y1="541.30" x2="569.50" y2="544.10" stroke="#606060" stroke-width="0.9"/>
<line x1="571.50" y1="541.30" x2="571.50" y2="542.70" stroke="#555" stroke-width="0.9"/>
<line x1="573.50" y1="541.30" x2="573.50" y2="542.70" stroke="#555" stroke-width="0.9"/>
<line x1="575.50" y1="541.30" x2="575.50" y2="542.70" stroke="#555" stroke-width="0.9"/>
<line x1="577.50" y1="541.30" x2="577.50" y2="542.70" stroke="#555" stroke-width="0.9"/>
<line x1="579.50" y1="541.30" x2="579.50" y2="544.10" stroke="#606060" stroke-width="0.9"/>
<line x1="582.50" y1="541.30" x2="582.50" y2="542.70" stroke="#555" stroke-width="0.9"/>
<line x1="584.50" y1="541.30" x2="584.50" y2="542.70" stroke="#555" stroke-width="0.9"/>
<line x1="586.50" y1="541.30" x2="586.50" y2="542.70" stroke="#555" stroke-width="0.9"/>
<line x1="588.50" y1="541.30" x2="588.50" y2="542.70" stroke="#555" stroke-width="0.9"/>
<line x1="590.50" y1="541.30" x2="590.50" y2="544.10" stroke="#606060" stroke-width="0.9"/>
<line x1="592.50" y1="541.30" x2="592.50" y2="542.70" stroke="#555" stroke-width="0.9"/>
<line x1="594.50" y1="541.30" x2="594.50" y2="542.70" stroke="#555" stroke-width="0.9"/>
<line x1="597.50" y1="541.30" x2="597.50" y2="542.70" stroke="#555" stroke-width="0.9"/>
<line x1="599.50" y1="541.30" x2="599.50" y2="542.70" stroke="#555" stroke-width="0.9"/>
<line x1="601.50" y1="541.30" x2="601.50" y2="544.10" stroke="#606060" stroke-width="0.9"/>
<line x1="603.50" y1="541.30" x2="603.50" y2="542.70" stroke="#555" stroke-width="0.9"/>
<line x1="605.50" y1="541.30" x2="605.50" y2="542.70" stroke="#555" stroke-width="0.9"/>
<line x1="607.50" y1="541.30" x2="607.50" y2="542.70" stroke="#555" stroke-width="0.9"/>
<line x1="609.50" y1="541.30" x2="609.50" y2="542.70" stroke="#555" stroke-width="0.9"/>
<line x1="612.50" y1="541.30" x2="612.50" y2="545.10" stroke="#606060" stroke-width="0.9"/>
<line x1="614.50" y1="541.30" x2="614.50" y2="542.70" stroke="#555" stroke-width="0.9"/>
<line x1="616.50" y1="541.30" x2="616.50" y2="542.70" stroke="#555" stroke-width="0.9"/>
<line x1="618.50" y1="541.30" x2="618.50" y2="542.70" stroke="#555" stroke-width="0.9"/>
<line x1="620.50" y1="541.30" x2="620.50" y2="542.70" stroke="#555" stroke-width="0.9"/>
<line x1="622.50" y1="541.30" x2="622.50" y2="544.10" stroke="#606060" stroke-width="0.9"/>
<line x1="624.50" y1="541.30" x2="624.50" y2="542.70" stroke="#555" stroke-width="0.9"/>
<line x1="627.50" y1="541.30" x2="627.50" y2="542.70" stroke="#555" stroke-width="0.9"/>
<line x1="629.50" y1="541.30" x2="629.50" y2="542.70" stroke="#555" stroke-width="0.9"/>
<line x1="631.50" y1="541.30" x2="631.50" y2="542.70" stroke="#555" stroke-width="0.9"/>
<line x1="633.50" y1="541.30" x2="633.50" y2="544.10" stroke="#606060" stroke-width="0.9"/>
<line x1="635.50" y1="541.30" x2="635.50" y2="542.70" stroke="#555" stroke-width="0.9"/>
<line x1="637.50" y1="541.30" x2="637.50" y2="542.70" stroke="#555" stroke-width="0.9"/>
<line x1="639.50" y1="541.30" x2="639.50" y2="542.70" stroke="#555" stroke-width="0.9"/>
<line x1="642.50" y1="541.30" x2="642.50" y2="542.70" stroke="#555" stroke-width="0.9"/>
<line x1="644.50" y1="541.30" x2="644.50" y2="544.10" stroke="#606060" stroke-width="0.9"/>
<line x1="646.50" y1="541.30" x2="646.50" y2="542.70" stroke="#555" stroke-width="0.9"/>
<line x1="648.50" y1="541.30" x2="648.50" y2="542.70" stroke="#555" stroke-width="0.9"/>
<line x1="650.50" y1="541.30" x2="650.50" y2="542.70" stroke="#555" stroke-width="0.9"/>
<line x1="652.50" y1="541.30" x2="652.50" y2="542.70" stroke="#555" stroke-width="0.9"/>
<line x1="655.50" y1="541.30" x2="655.50" y2="544.10" stroke="#606060" stroke-width="0.9"/>
<line x1="657.50" y1="541.30" x2="657.50" y2="542.70" stroke="#555" stroke-width="0.9"/>
<line x1="659.50" y1="541.30" x2="659.50" y2="542.70" stroke="#555" stroke-width="0.9"/>
<line x1="661.50" y1="541.30" x2="661.50" y2="542.70" stroke="#555" stroke-width="0.9"/>
<line x1="663.50" y1="541.30" x2="663.50" y2="542.70" stroke="#555" stroke-width="0.9"/>
<line x1="665.50" y1="541.30" x2="665.50" y2="545.10" stroke="#606060" stroke-width="0.9"/>
<line x1="667.50" y1="541.30" x2="667.50" y2="542.70" stroke="#555" stroke-width="0.9"/>
<line x1="670.50" y1="541.30" x2="670.50" y2="542.70" stroke="#555" stroke-width="0.9"/>
<line x1="672.50" y1="541.30" x2="672.50" y2="542.70" stroke="#555" stroke-width="0.9"/>
<line x1="674.50" y1="541.30" x2="674.50" y2="542.70" stroke="#555" stroke-width="0.9"/>
<line x1="676.50" y1="541.30" x2="676.50" y2="544.10" stroke="#606060" stroke-width="0.9"/>
<line x1="678.50" y1="541.30" x2="678.50" y2="542.70" stroke="#555" stroke-width="0.9"/>
<line x1="680.50" y1="541.30" x2="680.50" y2="542.70" stroke="#555" stroke-width="0.9"/>
<line x1="682.50" y1="541.30" x2="682.50" y2="542.70" stroke="#555" stroke-width="0.9"/>
<polyline points="420.00,540.97 420.90,540.69 421.80,540.82 422.70,541.35 423.60,541.54 424.50,540.60 425.40,541.17 426.30,541.38 427.20,540.59 428.10,541.47 429.00,540.68 429.90,541.21 430.80,541.16 431.70,541.24 432.60,540.89 433.50,541.01 434.40,541.19 435.30,541.02 436.20,541.27 437.10,541.04 438.00,541.03 438.90,540.58 439.80,541.23 440.70,541.09 441.60,540.81 442.50,541.39 443.40,541.41 444.30,541.05 445.20,540.75 446.10,541.07 447.00,540.67 447.90,540.69 448.80,541.02 449.70,540.65 450.60,541.04 451.50,541.11 452.40,540.59 453.30,541.25 454.20,540.64 455.10,541.36 456.00,541.41 456.90,541.11 457.80,540.61 458.70,541.10 459.60,540.97 460.50,541.60 461.40,540.70 462.30,541.49 463.20,541.65 464.10,541.36 465.00,541.45 465.90,540.76 466.80,541.63 467.70,541.09 468.60,541.60 469.50,541.56 470.40,540.73 471.30,541.42 472.20,541.57 473.10,540.62 474.00,540.94 474.90,541.38 475.80,540.72 476.70,541.54 477.60,540.85 478.50,541.45 479.40,540.71 480.30,541.10 481.20,541.56 482.10,540.78 483.00,540.84 483.90,541.11 484.80,540.90 485.70,540.59 486.60,540.75 487.50,540.73 488.40,541.58 489.30,541.30 490.20,541.53 491.10,540.74 492.00,541.41 492.90,540.68 493.80,541.13 494.70,541.25 495.60,540.95 496.50,541.51 497.40,541.16 498.30,541.19 499.20,541.52 500.10,540.67 501.00,541.64 501.90,541.24 502.80,540.98 503.70,541.43 504.60,540.84 505.50,541.64 506.40,541.19 507.30,540.95 508.20,541.39 509.10,541.04 510.00,540.74 510.90,541.37 511.80,540.60 512.70,541.45 513.60,540.83 514.50,541.25 515.40,541.63 516.30,541.19 517.20,541.28 518.10,540.89 519.00,540.55 519.90,540.59 520.80,540.71 521.70,541.23 522.60,541.03 523.50,541.11 524.40,541.54 525.30,540.70 526.20,540.80 527.10,541.27 528.00,540.57 528.90,540.55 529.80,540.94 530.70,540.67 531.60,540.94 532.50,540.80 533.40,541.19 534.30,541.20 535.20,540.77 536.10,541.24 537.00,541.07 537.90,540.70 538.80,541.58 539.70,540.82 540.60,540.71 541.50,540.66 542.40,541.25 543.30,541.51 544.20,541.41 545.10,540.99 546.00,540.84 546.90,540.56 547.80,541.26 548.70,541.17 549.60,540.94 550.50,541.26 551.40,541.04 552.30,541.58 553.20,541.36 554.10,540.82 555.00,541.54 555.90,540.60 556.80,541.13 557.70,541.00 558.60,540.81 559.50,540.61 560.40,541.41 561.30,540.56 562.20,541.16 563.10,541.59 564.00,540.71 564.90,540.77 565.80,541.22 566.70,541.11 567.60,541.26 568.50,541.44 569.40,540.74 570.30,540.89 571.20,540.88 572.10,540.60 573.00,541.53 573.90,541.41 574.80,541.34 575.70,540.56 576.60,541.48 577.50,541.37 578.40,541.06 579.30,541.37 580.20,541.05 581.10,540.80 582.00,540.67 582.90,540.81 583.80,540.59 584.70,540.92 585.60,541.37 586.50,541.31 587.40,541.48 588.30,541.33 589.20,540.84 590.10,541.16 591.00,541.03 591.90,541.42 592.80,541.13 593.70,540.84 594.60,541.26 595.50,541.61 596.40,540.79 597.30,541.52 598.20,540.57 599.10,540.84 600.00,540.81 600.90,541.37 601.80,541.59 602.70,541.37 603.60,540.91 604.50,541.52 605.40,540.91 606.30,540.81 607.20,541.55 608.10,541.24 609.00,541.31 609.90,541.28 610.80,541.63 611.70,541.07 612.60,541.47 613.50,541.32 614.40,541.49 615.30,541.03 616.20,541.35 617.10,541.18 618.00,540.89 618.90,540.78 619.80,541.23 620.70,540.64 621.60,541.55 622.50,540.71 623.40,540.58 624.30,540.67 625.20,541.57 626.10,540.93 627.00,540.71 627.90,540.58 628.80,540.60 629.70,541.31 630.60,541.25 631.50,541.32 632.40,541.36 633.30,540.62 634.20,541.20 635.10,540.95 636.00,541.45 636.90,541.45 637.80,541.53 638.70,540.62 639.60,541.50 640.50,541.56 641.40,541.59 642.30,540.67 643.20,540.78 644.10,540.67 645.00,540.59 645.90,541.48 646.80,541.44 647.70,541.25 648.60,541.46 649.50,541.24 650.40,540.87 651.30,540.66 652.20,540.66 653.10,541.38 654.00,540.78 654.90,540.90 655.80,541.02 656.70,540.57 657.60,540.83 658.50,540.86 659.40,541.34 660.30,540.95 661.20,540.90 662.10,541.61 663.00,541.10 663.90,541.49 664.80,541.23 665.70,540.58 666.60,541.00 667.50,541.03 668.40,541.40 669.30,540.93 670.20,541.33 671.10,541.14 672.00,540.79 672.90,541.50 673.80,540.65 674.70,541.45 675.60,540.74 676.50,540.55 677.40,540.77 678.30,541.39 679.20,541.63 680.10,540.55 681.00,541.09 681.90,541.09 682.80,541.43 683.70,540.75" fill="none" stroke="#2a2a2a" stroke-width="0.6" stroke-linejoin="round" />
<line x1="425.40" y1="541.30" x2="425.40" y2="534.93" stroke="#9a9a9a" stroke-width="0.9"/>
<line x1="426.47" y1="541.30" x2="426.47" y2="520.43" stroke="#5a5a5a" stroke-width="0.9"/>
<line x1="428.62" y1="541.30" x2="428.62" y2="528.12" stroke="#5a5a5a" stroke-width="0.9"/>
<line x1="439.35" y1="541.30" x2="439.35" y2="524.16" stroke="#c4c4c4" stroke-width="1.3"/>
<line x1="441.49" y1="541.30" x2="441.49" y2="514.50" stroke="#c4c4c4" stroke-width="1.5"/>
<line x1="442.57" y1="541.30" x2="442.57" y2="534.71" stroke="#9a9a9a" stroke-width="0.8"/>
<line x1="443.64" y1="541.30" x2="443.64" y2="533.61" stroke="#5a5a5a" stroke-width="0.8"/>
<line x1="451.15" y1="541.30" x2="451.15" y2="539.10" stroke="#9a9a9a" stroke-width="0.8"/>
<line x1="452.22" y1="541.30" x2="452.22" y2="538.66" stroke="#9a9a9a" stroke-width="0.8"/>
<line x1="454.37" y1="541.30" x2="454.37" y2="532.51" stroke="#5a5a5a" stroke-width="0.8"/>
<line x1="455.44" y1="541.30" x2="455.44" y2="537.35" stroke="#9a9a9a" stroke-width="0.8"/>
<line x1="456.51" y1="541.30" x2="456.51" y2="529.88" stroke="#c4c4c4" stroke-width="1.2"/>
<line x1="457.59" y1="541.30" x2="457.59" y2="536.91" stroke="#9a9a9a" stroke-width="0.8"/>
<line x1="458.66" y1="541.30" x2="458.66" y2="513.62" stroke="#9a9a9a" stroke-width="0.9"/>
<line x1="459.73" y1="541.30" x2="459.73" y2="536.47" stroke="#5a5a5a" stroke-width="0.8"/>
<line x1="465.10" y1="541.30" x2="465.10" y2="522.63" stroke="#9a9a9a" stroke-width="0.9"/>
<line x1="466.17" y1="541.30" x2="466.17" y2="536.91" stroke="#9a9a9a" stroke-width="0.8"/>
<line x1="467.25" y1="541.30" x2="467.25" y2="532.51" stroke="#5a5a5a" stroke-width="0.8"/>
<line x1="468.32" y1="541.30" x2="468.32" y2="538.66" stroke="#9a9a9a" stroke-width="0.8"/>
<line x1="469.39" y1="541.30" x2="469.39" y2="538.44" stroke="#9a9a9a" stroke-width="0.8"/>
<line x1="471.54" y1="541.30" x2="471.54" y2="534.93" stroke="#5a5a5a" stroke-width="0.8"/>
<line x1="473.68" y1="541.30" x2="473.68" y2="538.44" stroke="#9a9a9a" stroke-width="0.8"/>
<line x1="480.12" y1="541.30" x2="480.12" y2="534.93" stroke="#5a5a5a" stroke-width="0.8"/>
<line x1="481.19" y1="541.30" x2="481.19" y2="528.34" stroke="#c4c4c4" stroke-width="1.2"/>
<line x1="482.27" y1="541.30" x2="482.27" y2="532.07" stroke="#5a5a5a" stroke-width="0.8"/>
<line x1="483.34" y1="541.30" x2="483.34" y2="537.35" stroke="#9a9a9a" stroke-width="0.8"/>
<line x1="484.41" y1="541.30" x2="484.41" y2="539.10" stroke="#9a9a9a" stroke-width="0.8"/>
<line x1="493.00" y1="541.30" x2="493.00" y2="537.35" stroke="#5a5a5a" stroke-width="0.8"/>
<line x1="495.14" y1="541.30" x2="495.14" y2="496.04" stroke="#9a9a9a" stroke-width="0.9"/>
<line x1="496.22" y1="541.30" x2="496.22" y2="529.88" stroke="#5a5a5a" stroke-width="0.9"/>
<line x1="501.58" y1="541.30" x2="501.58" y2="536.47" stroke="#9a9a9a" stroke-width="0.8"/>
<line x1="508.02" y1="541.30" x2="508.02" y2="536.47" stroke="#9a9a9a" stroke-width="0.8"/>
<line x1="509.09" y1="541.30" x2="509.09" y2="534.71" stroke="#9a9a9a" stroke-width="0.8"/>
<line x1="510.16" y1="541.30" x2="510.16" y2="528.12" stroke="#9a9a9a" stroke-width="0.9"/>
<line x1="511.24" y1="541.30" x2="511.24" y2="536.47" stroke="#9a9a9a" stroke-width="0.8"/>
<line x1="520.89" y1="541.30" x2="520.89" y2="497.36" stroke="#c4c4c4" stroke-width="1.6"/>
<line x1="521.97" y1="541.30" x2="521.97" y2="523.72" stroke="#5a5a5a" stroke-width="0.9"/>
<line x1="523.04" y1="541.30" x2="523.04" y2="486.37" stroke="#c4c4c4" stroke-width="1.5"/>
<line x1="523.36" y1="541.30" x2="523.36" y2="532.51" stroke="#5a5a5a" stroke-width="0.8"/>
<line x1="524.11" y1="541.30" x2="524.11" y2="531.63" stroke="#9a9a9a" stroke-width="0.8"/>
<line x1="525.19" y1="541.30" x2="525.19" y2="510.54" stroke="#5a5a5a" stroke-width="0.9"/>
<line x1="526.26" y1="541.30" x2="526.26" y2="535.81" stroke="#9a9a9a" stroke-width="0.8"/>
<line x1="533.77" y1="541.30" x2="533.77" y2="536.91" stroke="#9a9a9a" stroke-width="0.8"/>
<line x1="534.84" y1="541.30" x2="534.84" y2="525.92" stroke="#5a5a5a" stroke-width="0.8"/>
<line x1="535.92" y1="541.30" x2="535.92" y2="536.91" stroke="#9a9a9a" stroke-width="0.8"/>
<line x1="536.99" y1="541.30" x2="536.99" y2="536.91" stroke="#9a9a9a" stroke-width="0.8"/>
<line x1="538.06" y1="541.30" x2="538.06" y2="508.34" stroke="#c4c4c4" stroke-width="1.3"/>
<line x1="539.14" y1="541.30" x2="539.14" y2="481.32" stroke="#5a5a5a" stroke-width="1.6"/>
<line x1="540.21" y1="541.30" x2="540.21" y2="523.72" stroke="#5a5a5a" stroke-width="0.9"/>
<line x1="541.28" y1="541.30" x2="541.28" y2="538.00" stroke="#9a9a9a" stroke-width="0.8"/>
<line x1="548.79" y1="541.30" x2="548.79" y2="535.37" stroke="#9a9a9a" stroke-width="0.8"/>
<line x1="550.94" y1="541.30" x2="550.94" y2="538.00" stroke="#9a9a9a" stroke-width="0.8"/>
<line x1="552.01" y1="541.30" x2="552.01" y2="536.91" stroke="#9a9a9a" stroke-width="0.8"/>
<line x1="553.09" y1="541.30" x2="553.09" y2="530.31" stroke="#c4c4c4" stroke-width="1.3"/>
<line x1="554.16" y1="541.30" x2="554.16" y2="532.51" stroke="#9a9a9a" stroke-width="0.8"/>
<line x1="555.23" y1="541.30" x2="555.23" y2="483.08" stroke="#c4c4c4" stroke-width="1.6"/>
<line x1="555.55" y1="541.30" x2="555.55" y2="495.16" stroke="#5a5a5a" stroke-width="0.9"/>
<line x1="556.30" y1="541.30" x2="556.30" y2="525.04" stroke="#5a5a5a" stroke-width="0.9"/>
<line x1="557.38" y1="541.30" x2="557.38" y2="537.35" stroke="#9a9a9a" stroke-width="0.8"/>
<line x1="563.82" y1="541.30" x2="563.82" y2="538.66" stroke="#9a9a9a" stroke-width="0.8"/>
<line x1="565.96" y1="541.30" x2="565.96" y2="537.78" stroke="#9a9a9a" stroke-width="0.8"/>
<line x1="568.11" y1="541.30" x2="568.11" y2="529.44" stroke="#5a5a5a" stroke-width="0.8"/>
<line x1="570.25" y1="541.30" x2="570.25" y2="534.05" stroke="#5a5a5a" stroke-width="0.8"/>
<line x1="578.84" y1="541.30" x2="578.84" y2="537.78" stroke="#c4c4c4" stroke-width="1"/>
<line x1="580.98" y1="541.30" x2="580.98" y2="537.35" stroke="#9a9a9a" stroke-width="0.8"/>
<line x1="583.13" y1="541.30" x2="583.13" y2="535.37" stroke="#5a5a5a" stroke-width="0.8"/>
<line x1="596.00" y1="541.30" x2="596.00" y2="539.10" stroke="#9a9a9a" stroke-width="0.8"/>
<line x1="600.30" y1="541.30" x2="600.30" y2="321.60" stroke="#c4c4c4" stroke-width="1.8"/>
<line x1="601.37" y1="541.30" x2="601.37" y2="507.47" stroke="#5a5a5a" stroke-width="0.9"/>
<line x1="615.32" y1="541.30" x2="615.32" y2="539.10" stroke="#9a9a9a" stroke-width="0.8"/>
<line x1="616.39" y1="541.30" x2="616.39" y2="500.44" stroke="#5a5a5a" stroke-width="0.9"/>
<line x1="617.47" y1="541.30" x2="617.47" y2="538.44" stroke="#9a9a9a" stroke-width="0.8"/>
<line x1="619.61" y1="541.30" x2="619.61" y2="539.10" stroke="#9a9a9a" stroke-width="0.8"/>
<text x="422.91" y="518.70" font-size="7.0" textLength="8.28" lengthAdjust="spacingAndGlyphs" fill="#1e1e1e" class="sm">27</text>
<text x="437.51" y="512.40" font-size="7.0" textLength="8.28" lengthAdjust="spacingAndGlyphs" fill="#1e1e1e" class="sm">41</text>
<text x="448.11" y="527.90" font-size="7.0" textLength="7.88" lengthAdjust="spacingAndGlyphs" fill="#1e1e1e" class="sm">55</text>
<text x="454.71" y="511.10" font-size="7.0" textLength="7.78" lengthAdjust="spacingAndGlyphs" fill="#1e1e1e" class="sm">57</text>
<text x="461.51" y="520.90" font-size="7.0" textLength="7.88" lengthAdjust="spacingAndGlyphs" fill="#1e1e1e" class="sm">63</text>
<text x="477.21" y="526.40" font-size="7.0" textLength="7.68" lengthAdjust="spacingAndGlyphs" fill="#1e1e1e" class="sm">78</text>
<text x="483.91" y="534.00" font-size="7.0" textLength="7.78" lengthAdjust="spacingAndGlyphs" fill="#1e1e1e" class="sm">79</text>
<text x="491.51" y="493.70" font-size="7.0" textLength="7.98" lengthAdjust="spacingAndGlyphs" fill="#1e1e1e" class="sm">91</text>
<text x="505.01" y="526.10" font-size="7.0" textLength="11.68" lengthAdjust="spacingAndGlyphs" fill="#1e1e1e" class="sm">105</text>
<text x="508.81" y="495.40" font-size="7.0" textLength="11.48" lengthAdjust="spacingAndGlyphs" fill="#1e1e1e" class="sm">115</text>
<text x="517.31" y="483.90" font-size="7.0" textLength="11.68" lengthAdjust="spacingAndGlyphs" fill="#1e1e1e" class="sm">117</text>
<text x="533.41" y="479.80" font-size="7.0" textLength="11.38" lengthAdjust="spacingAndGlyphs" fill="#1e1e1e" class="sm">132</text>
<text x="541.51" y="522.40" font-size="7.0" textLength="11.18" lengthAdjust="spacingAndGlyphs" fill="#1e1e1e" class="sm">133</text>
<text x="550.11" y="481.10" font-size="7.0" textLength="11.08" lengthAdjust="spacingAndGlyphs" fill="#1e1e1e" class="sm">147</text>
<text x="558.21" y="492.90" font-size="7.0" textLength="11.28" lengthAdjust="spacingAndGlyphs" fill="#1e1e1e" class="sm">147</text>
<text x="559.11" y="523.20" font-size="7.0" textLength="11.28" lengthAdjust="spacingAndGlyphs" fill="#1e1e1e" class="sm">148</text>
<text x="571.01" y="532.20" font-size="7.0" textLength="11.18" lengthAdjust="spacingAndGlyphs" fill="#1e1e1e" class="sm">161</text>
<text x="594.31" y="319.90" font-size="7.0" textLength="11.08" lengthAdjust="spacingAndGlyphs" fill="#1e1e1e" class="sm">189</text>
<text x="602.01" y="506.00" font-size="7.0" textLength="11.48" lengthAdjust="spacingAndGlyphs" fill="#1e1e1e" class="sm">190</text>
<text x="610.51" y="498.50" font-size="7.0" textLength="11.78" lengthAdjust="spacingAndGlyphs" fill="#1e1e1e" class="sm">204</text>
<text x="619.21" y="536.50" font-size="7.0" textLength="12.28" lengthAdjust="spacingAndGlyphs" fill="#1e1e1e" class="sm">205</text>
<text x="634.91" y="538.10" font-size="7.0" textLength="11.58" lengthAdjust="spacingAndGlyphs" fill="#1e1e1e" class="sm">227</text>
<text x="650.21" y="538.40" font-size="7.0" textLength="11.48" lengthAdjust="spacingAndGlyphs" fill="#1e1e1e" class="sm">241</text>
<text x="672.41" y="538.10" font-size="7.0" textLength="12.08" lengthAdjust="spacingAndGlyphs" fill="#1e1e1e" class="sm">262</text>
<line x1="456.60" y1="529.00" x2="461.00" y2="528.50" stroke="#8fd08f" stroke-width="0.7"/>
<line x1="483.00" y1="531.50" x2="487.00" y2="530.50" stroke="#8fd08f" stroke-width="0.7"/>
<line x1="514.00" y1="496.00" x2="520.50" y2="496.80" stroke="#8fd08f" stroke-width="0.7"/>
<line x1="540.50" y1="522.90" x2="548.00" y2="521.50" stroke="#8fd08f" stroke-width="0.7"/>
<line x1="556.00" y1="494.50" x2="563.00" y2="493.50" stroke="#8fd08f" stroke-width="0.7"/>
<line x1="557.00" y1="524.00" x2="566.00" y2="522.80" stroke="#8fd08f" stroke-width="0.7"/>
<line x1="571.00" y1="533.00" x2="577.00" y2="532.00" stroke="#8fd08f" stroke-width="0.7"/>
<line x1="602.00" y1="507.50" x2="608.00" y2="506.50" stroke="#8fd08f" stroke-width="0.7"/>
<line x1="617.50" y1="537.00" x2="624.00" y2="535.80" stroke="#8fd08f" stroke-width="0.7"/>
<text x="442.47" y="351.20" font-size="19.0" textLength="15.36" lengthAdjust="spacingAndGlyphs" fill="#000" font-weight="bold" >D</text>
<text transform="translate(402.60,460.95) rotate(-90)" x="0" y="0" font-size="6.5" textLength="59.91" lengthAdjust="spacingAndGlyphs" fill="#1e1e1e" class="sm">Relative Abundance</text>
<text x="546.56" y="560.50" font-size="6.3" textLength="10.98" lengthAdjust="spacingAndGlyphs" fill="#1e1e1e" class="sm">m/z</text>
<text x="447.41" y="551.90" font-size="7.0" textLength="7.98" lengthAdjust="spacingAndGlyphs" fill="#1e1e1e" class="sm">50</text>
<text x="499.01" y="551.90" font-size="7.0" textLength="11.38" lengthAdjust="spacingAndGlyphs" fill="#1e1e1e" class="sm">100</text>
<text x="552.71" y="551.90" font-size="7.0" textLength="11.38" lengthAdjust="spacingAndGlyphs" fill="#1e1e1e" class="sm">150</text>
<text x="605.71" y="552.00" font-size="7.0" textLength="12.18" lengthAdjust="spacingAndGlyphs" fill="#1e1e1e" class="sm">200</text>
<text x="659.71" y="552.00" font-size="7.0" textLength="11.58" lengthAdjust="spacingAndGlyphs" fill="#1e1e1e" class="sm">250</text>
<rect x="435" y="313.3" width="1" height="1" fill="#6a6ad0"/>
<rect x="477" y="313.3" width="1" height="1" fill="#6a6ad0"/>
</svg></body></html>
